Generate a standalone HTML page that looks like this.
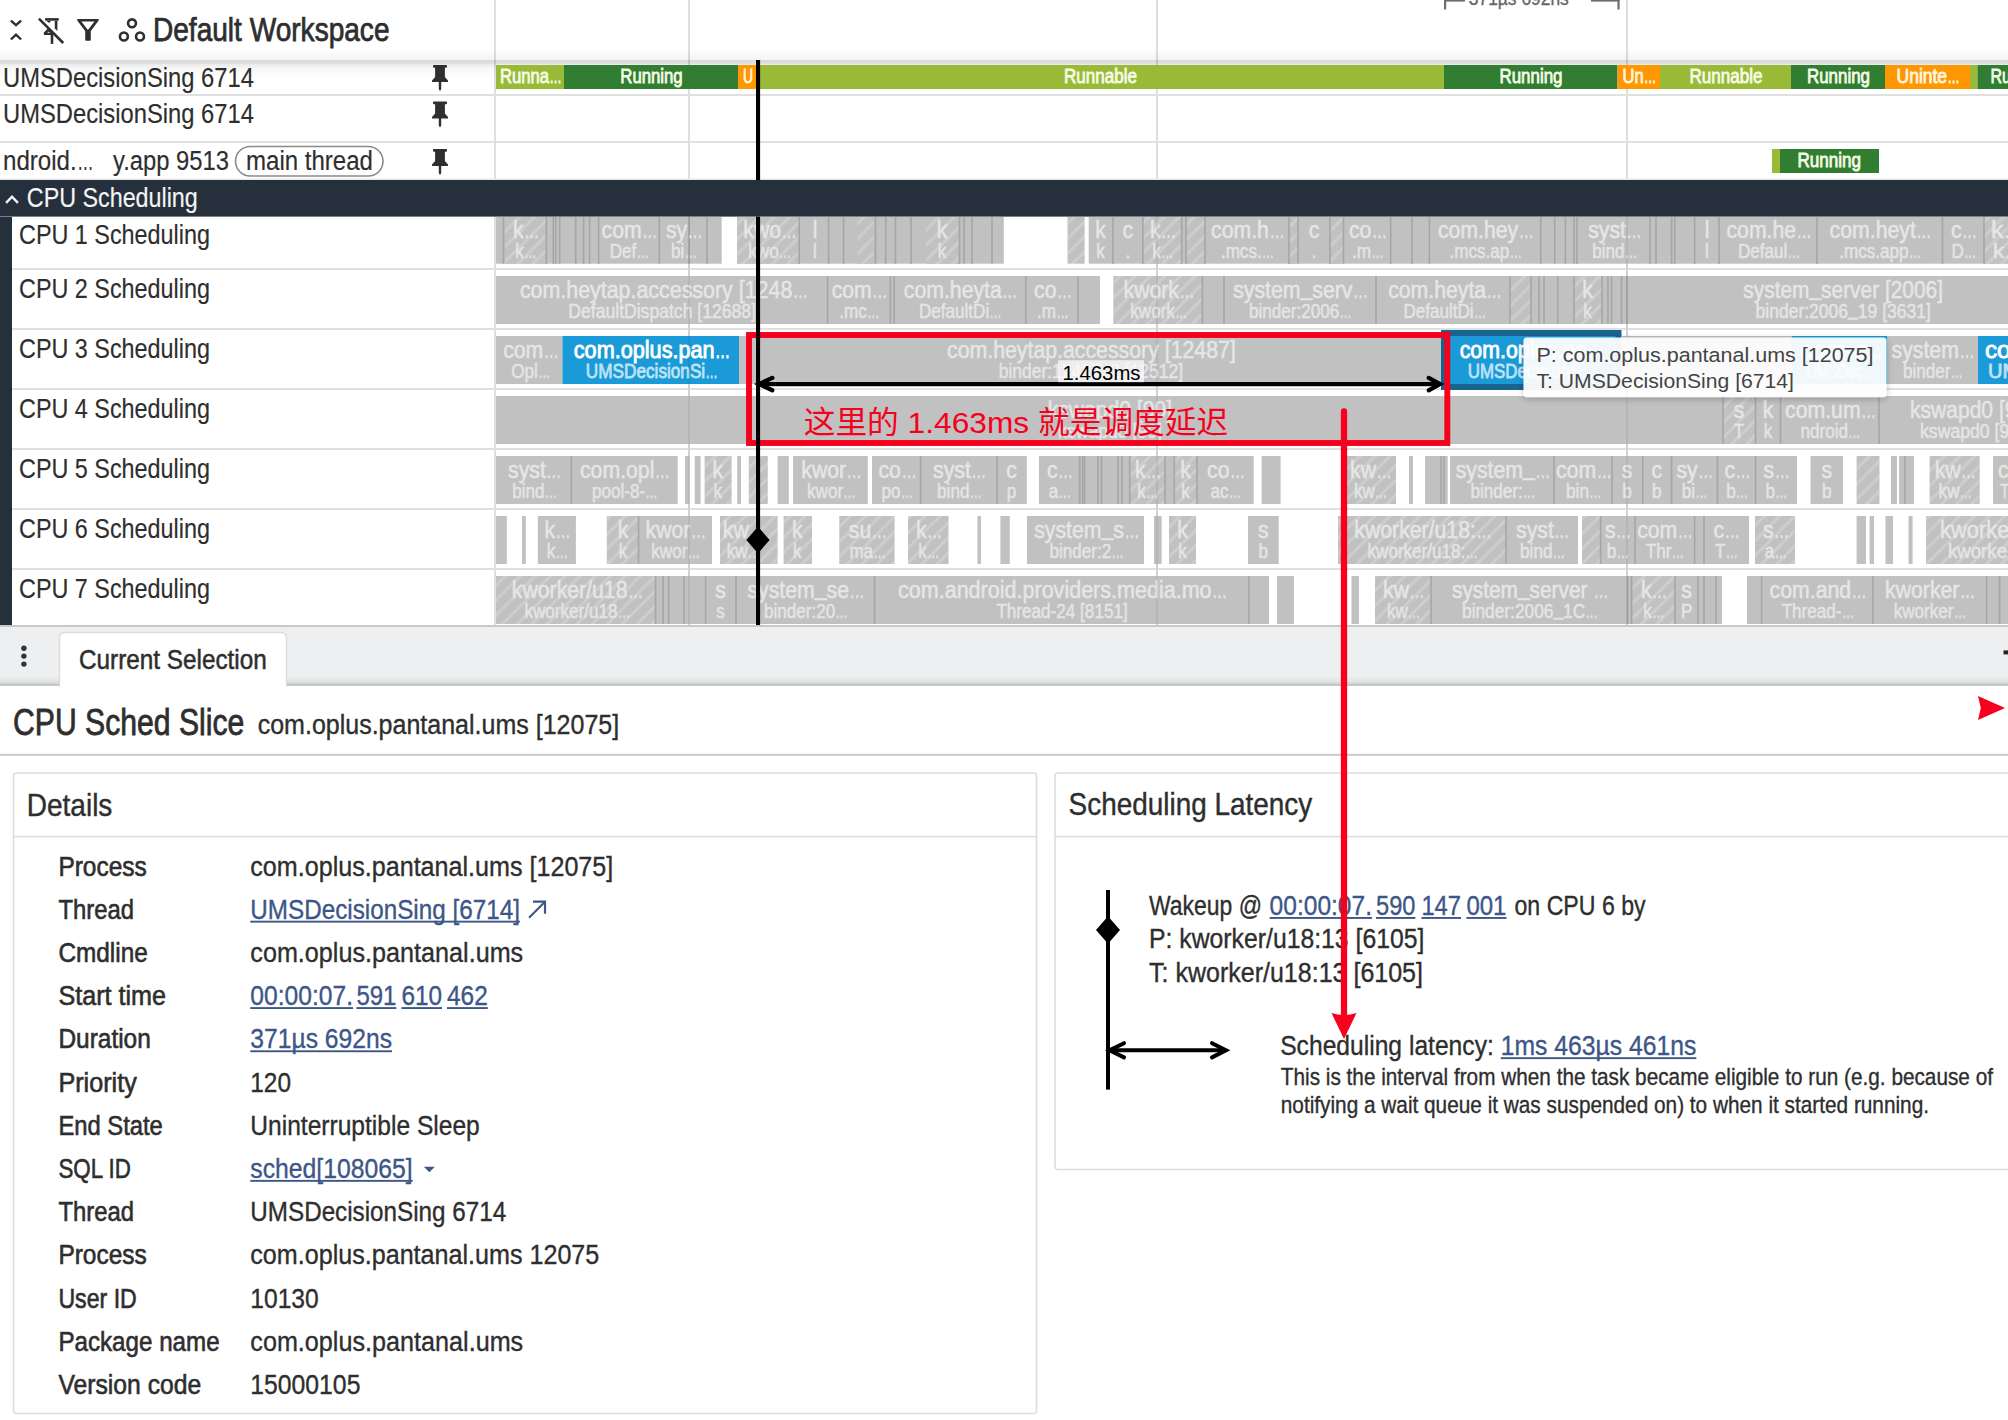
<!DOCTYPE html>
<html lang="zh">
<head>
<meta charset="utf-8">
<title>Perfetto UI - CPU Sched Slice</title>
<style>
html,body{margin:0;padding:0;background:#fff;}
body{width:2008px;height:1420px;overflow:hidden;}
svg{display:block;}
svg text{font-family:"Liberation Sans","Noto Sans CJK SC",sans-serif;white-space:pre;}
svg text.cjk{font-family:"Liberation Sans","Noto Sans CJK SC",sans-serif;}
</style>
</head>
<body>
<svg width="2008" height="1420" viewBox="0 0 2008 1420">
<defs>
<linearGradient id="shA" x1="0" y1="0" x2="0" y2="1"><stop offset="0" stop-color="#000" stop-opacity="0"/><stop offset="1" stop-color="#000" stop-opacity="0.045"/></linearGradient>
<linearGradient id="shB" x1="0" y1="0" x2="0" y2="1"><stop offset="0" stop-color="#000" stop-opacity="0.15"/><stop offset="0.17" stop-color="#000" stop-opacity="0.13"/><stop offset="0.26" stop-color="#000" stop-opacity="0.07"/><stop offset="0.5" stop-color="#000" stop-opacity="0.03"/><stop offset="1" stop-color="#000" stop-opacity="0"/></linearGradient>
<linearGradient id="shC" x1="0" y1="0" x2="0" y2="1"><stop offset="0" stop-color="#000" stop-opacity="0"/><stop offset="1" stop-color="#000" stop-opacity="0.10"/></linearGradient>
<pattern id="hatch" width="10.6" height="10.6" patternUnits="userSpaceOnUse" patternTransform="rotate(-45)"><rect x="0" y="0" width="10.6" height="3" fill="#ffffff" fill-opacity="0.2"/></pattern>
<clipPath id="tl"><rect x="496" y="217" width="1512" height="408"/></clipPath>
<clipPath id="c1"><rect x="496" y="217" width="1512" height="47"/></clipPath>
<filter id="tsh" x="-5%" y="-20%" width="110%" height="150%"><feDropShadow dx="0" dy="1.5" stdDeviation="3" flood-color="#000" flood-opacity="0.28"/></filter>
</defs>
<rect x="0.0" y="0.0" width="2008.0" height="1420.0" fill="#ffffff" />
<rect x="688.0" y="0.0" width="2.0" height="626.0" fill="#dedede" />
<rect x="1156.0" y="0.0" width="2.0" height="626.0" fill="#dedede" />
<rect x="1626.0" y="0.0" width="2.0" height="626.0" fill="#dedede" />
<rect x="494.0" y="0.0" width="2.0" height="626.0" fill="#dfdfdf" />
<rect x="0" y="48" width="2008" height="12" fill="url(#shA)"/>
<rect x="0" y="60" width="2008" height="18" fill="url(#shB)"/>
<g fill="none" stroke="#2f2f2f" stroke-width="2.4" stroke-linejoin="miter">
<polyline points="10.9,20.6 16,25.2 21.1,20.6"/>
<polyline points="10.9,39.5 16,34.7 21.1,39.5"/>
</g>
<g fill="#2f2f2f">
<rect x="45.1" y="18.1" width="13.6" height="2.6"/>
<polygon points="46,20.7 51.2,20.7 49.3,23"/>
<polygon points="54.8,20.7 57.4,20.7 57.4,30.9 54.8,28.3"/>
<path d="M43.9,35 V32.6 L47.9,28.6 L53.3,33.9 V35 Z"/>
<polygon points="47.9,31.6 50.6,33 47.5,33" fill="#c8c8c8"/>
<rect x="50.7" y="35" width="2.6" height="8.9"/>
</g>
<line x1="38.9" y1="18.7" x2="63.2" y2="43" stroke="#2f2f2f" stroke-width="2.6"/>
<path d="M78.2,19.1 H97.7 Q99.6,19.1 98.5,20.7 L90.8,30.9 V39.8 Q90.8,40.8 89.8,40.8 H86.2 Q85.2,40.8 85.2,39.8 V30.9 L77.4,20.7 Q76.3,19.1 78.2,19.1 Z M81.3,21.5 L87.9,30 L94.5,21.5 Z" fill="#2f2f2f" fill-rule="evenodd"/>
<g fill="none" stroke="#2f2f2f" stroke-width="2.6">
<circle cx="132" cy="23.3" r="3.95"/><circle cx="123.9" cy="36.5" r="3.95"/><circle cx="140" cy="36.5" r="3.95"/>
</g>
<text x="153.0" y="40.5" font-size="32.60" fill="#2e2e2e" textLength="236.5" lengthAdjust="spacingAndGlyphs" stroke="#2e2e2e" stroke-width="0.75" >Default Workspace</text>
<rect x="0.0" y="94.0" width="2008.0" height="2.0" fill="#e0e0e0" />
<rect x="0.0" y="141.0" width="2008.0" height="2.0" fill="#e0e0e0" />
<text x="3.0" y="86.8" font-size="26.91" fill="#2e2e2e" textLength="251.0" lengthAdjust="spacingAndGlyphs" stroke="#2e2e2e" stroke-width="0.15" >UMSDecisionSing 6714</text>
<text x="3.0" y="122.6" font-size="26.91" fill="#2e2e2e" textLength="251.0" lengthAdjust="spacingAndGlyphs" stroke="#2e2e2e" stroke-width="0.15" >UMSDecisionSing 6714</text>
<text x="3.0" y="170.3" font-size="26.91" fill="#2e2e2e" textLength="73.7" lengthAdjust="spacingAndGlyphs" stroke="#2e2e2e" stroke-width="0.15" >ndroid.</text>
<text x="77.3" y="170.3" font-size="26.91" fill="#2e2e2e" textLength="16.3" lengthAdjust="spacingAndGlyphs" stroke="#2e2e2e" stroke-width="0.15" >…</text>
<text x="113.0" y="170.3" font-size="26.91" fill="#2e2e2e" textLength="116.0" lengthAdjust="spacingAndGlyphs" stroke="#2e2e2e" stroke-width="0.15" >y.app 9513</text>
<rect x="235.5" y="146.5" width="147.5" height="29.5" rx="14.7" ry="14.7" fill="#ffffff" stroke="#8a8a8a" stroke-width="1.6"/>
<text x="246.0" y="169.8" font-size="26.91" fill="#2e2e2e" textLength="127.0" lengthAdjust="spacingAndGlyphs" stroke="#2e2e2e" stroke-width="0.15" >main thread</text>
<path transform="translate(433,65)" d="M1,0 H13 Q14,0 14,1 V1.8 Q14,2.8 13,2.8 H11.9 V12 L15,15.6 V17 H8.2 V24 L7,26 L5.8,24 V17 H-1 V15.6 L2.1,12 V2.8 H1 Q0,2.8 0,1.8 V1 Q0,0 1,0 Z" fill="#2f2f2f"/>
<path transform="translate(433,101.5)" d="M1,0 H13 Q14,0 14,1 V1.8 Q14,2.8 13,2.8 H11.9 V12 L15,15.6 V17 H8.2 V24 L7,26 L5.8,24 V17 H-1 V15.6 L2.1,12 V2.8 H1 Q0,2.8 0,1.8 V1 Q0,0 1,0 Z" fill="#2f2f2f"/>
<path transform="translate(433,149)" d="M1,0 H13 Q14,0 14,1 V1.8 Q14,2.8 13,2.8 H11.9 V12 L15,15.6 V17 H8.2 V24 L7,26 L5.8,24 V17 H-1 V15.6 L2.1,12 V2.8 H1 Q0,2.8 0,1.8 V1 Q0,0 1,0 Z" fill="#2f2f2f"/>
<rect x="496.0" y="65.0" width="68.0" height="24.0" fill="#99ba36" />
<text x="500.0" y="82.6" font-size="20.18" fill="#f4fbe4" textLength="49.1" lengthAdjust="spacingAndGlyphs" stroke="#f4fbe4" stroke-width="0.85" >Runna</text>
<text x="549.5" y="82.6" font-size="20.18" fill="#f4fbe4" textLength="12.2" lengthAdjust="spacingAndGlyphs" stroke="#f4fbe4" stroke-width="0.85" >…</text>
<rect x="564.0" y="65.0" width="174.0" height="24.0" fill="#317d31" />
<text x="620.3" y="82.6" font-size="20.18" fill="#f4fbe4" textLength="62.4" lengthAdjust="spacingAndGlyphs" stroke="#f4fbe4" stroke-width="0.85" >Running</text>
<rect x="738.0" y="65.0" width="18.0" height="24.0" fill="#ff9800" />
<text x="743.0" y="82.6" font-size="20.18" fill="#fff6e0" textLength="10.0" lengthAdjust="spacingAndGlyphs" stroke="#fff6e0" stroke-width="0.85" >U</text>
<rect x="756.0" y="65.0" width="688.0" height="24.0" fill="#99ba36" />
<text x="1064.0" y="82.6" font-size="20.18" fill="#f4fbe4" textLength="73.0" lengthAdjust="spacingAndGlyphs" stroke="#f4fbe4" stroke-width="0.85" >Runnable</text>
<rect x="1444.0" y="65.0" width="173.5" height="24.0" fill="#317d31" />
<text x="1499.5" y="82.6" font-size="20.18" fill="#f4fbe4" textLength="63.0" lengthAdjust="spacingAndGlyphs" stroke="#f4fbe4" stroke-width="0.85" >Running</text>
<rect x="1617.5" y="65.0" width="42.5" height="24.0" fill="#ff9800" />
<text x="1622.5" y="82.6" font-size="20.18" fill="#fff6e0" textLength="21.1" lengthAdjust="spacingAndGlyphs" stroke="#fff6e0" stroke-width="0.85" >Un</text>
<text x="1644.0" y="82.6" font-size="20.18" fill="#fff6e0" textLength="12.2" lengthAdjust="spacingAndGlyphs" stroke="#fff6e0" stroke-width="0.85" >…</text>
<rect x="1660.0" y="65.0" width="131.0" height="24.0" fill="#99ba36" />
<text x="1689.5" y="82.6" font-size="20.18" fill="#f4fbe4" textLength="73.0" lengthAdjust="spacingAndGlyphs" stroke="#f4fbe4" stroke-width="0.85" >Runnable</text>
<rect x="1791.0" y="65.0" width="94.0" height="24.0" fill="#317d31" />
<text x="1807.0" y="82.6" font-size="20.18" fill="#f4fbe4" textLength="63.0" lengthAdjust="spacingAndGlyphs" stroke="#f4fbe4" stroke-width="0.85" >Running</text>
<rect x="1885.0" y="65.0" width="85.0" height="24.0" fill="#ff9800" />
<text x="1896.5" y="82.6" font-size="20.18" fill="#fff6e0" textLength="50.6" lengthAdjust="spacingAndGlyphs" stroke="#fff6e0" stroke-width="0.85" >Uninte</text>
<text x="1947.5" y="82.6" font-size="20.18" fill="#fff6e0" textLength="12.2" lengthAdjust="spacingAndGlyphs" stroke="#fff6e0" stroke-width="0.85" >…</text>
<rect x="1970.0" y="65.0" width="7.5" height="24.0" fill="#99ba36" />
<rect x="1977.5" y="65.0" width="30.5" height="24.0" fill="#317d31" />
<text x="1990.5" y="82.6" font-size="20.18" fill="#f4fbe4" textLength="20.5" lengthAdjust="spacingAndGlyphs" stroke="#f4fbe4" stroke-width="0.85" >Ru</text>
<rect x="1772.0" y="149.0" width="8.0" height="24.0" fill="#99ba36" />
<rect x="1780.0" y="149.0" width="99.0" height="24.0" fill="#317d31" />
<text x="1797.5" y="166.6" font-size="20.18" fill="#f4fbe4" textLength="63.5" lengthAdjust="spacingAndGlyphs" stroke="#f4fbe4" stroke-width="0.85" >Running</text>
<rect x="1444.0" y="0.0" width="2.2" height="9.5" fill="#6d6d6d" />
<rect x="1444.0" y="0.0" width="21.0" height="1.6" fill="#6d6d6d" />
<rect x="1617.4" y="0.0" width="2.2" height="9.5" fill="#6d6d6d" />
<rect x="1591.0" y="0.0" width="28.6" height="1.6" fill="#6d6d6d" />
<text x="1468.8" y="4.5" font-size="20.70" fill="#666666" textLength="100.0" lengthAdjust="spacingAndGlyphs" stroke="#666666" stroke-width="0.35" >371µs 692ns</text>
<rect x="0.0" y="217.0" width="12.0" height="408.0" fill="#262f3c" />
<text x="19.0" y="243.5" font-size="26.91" fill="#2e2e2e" textLength="191.0" lengthAdjust="spacingAndGlyphs" stroke="#2e2e2e" stroke-width="0.15" >CPU 1 Scheduling</text>
<text x="19.0" y="297.8" font-size="26.91" fill="#2e2e2e" textLength="191.0" lengthAdjust="spacingAndGlyphs" stroke="#2e2e2e" stroke-width="0.15" >CPU 2 Scheduling</text>
<text x="19.0" y="357.6" font-size="26.91" fill="#2e2e2e" textLength="191.0" lengthAdjust="spacingAndGlyphs" stroke="#2e2e2e" stroke-width="0.15" >CPU 3 Scheduling</text>
<text x="19.0" y="417.6" font-size="26.91" fill="#2e2e2e" textLength="191.0" lengthAdjust="spacingAndGlyphs" stroke="#2e2e2e" stroke-width="0.15" >CPU 4 Scheduling</text>
<text x="19.0" y="477.6" font-size="26.91" fill="#2e2e2e" textLength="191.0" lengthAdjust="spacingAndGlyphs" stroke="#2e2e2e" stroke-width="0.15" >CPU 5 Scheduling</text>
<text x="19.0" y="537.6" font-size="26.91" fill="#2e2e2e" textLength="191.0" lengthAdjust="spacingAndGlyphs" stroke="#2e2e2e" stroke-width="0.15" >CPU 6 Scheduling</text>
<text x="19.0" y="597.6" font-size="26.91" fill="#2e2e2e" textLength="191.0" lengthAdjust="spacingAndGlyphs" stroke="#2e2e2e" stroke-width="0.15" >CPU 7 Scheduling</text>
<rect x="12.0" y="268.0" width="1996.0" height="2.0" fill="#e0e0e0" />
<rect x="12.0" y="328.0" width="1996.0" height="2.0" fill="#e0e0e0" />
<rect x="12.0" y="388.0" width="1996.0" height="2.0" fill="#e0e0e0" />
<rect x="12.0" y="448.0" width="1996.0" height="2.0" fill="#e0e0e0" />
<rect x="12.0" y="508.0" width="1996.0" height="2.0" fill="#e0e0e0" />
<rect x="12.0" y="568.0" width="1996.0" height="2.0" fill="#e0e0e0" />
<g clip-path="url(#tl)">
<g clip-path="url(#c1)">
<rect x="496.0" y="216.0" width="225.7" height="47.7" fill="#c1c1c1" />
<rect x="505.0" y="216.0" width="40.8" height="47.7" fill="#c1c1c1" />
<rect x="505.0" y="216.0" width="40.8" height="48" fill="url(#hatch)"/>
<rect x="502.7" y="216.0" width="1.6" height="48.0" fill="#a6a6a6" />
<rect x="545.6" y="216.0" width="1.6" height="48.0" fill="#a6a6a6" />
<rect x="552.5" y="216.0" width="1.6" height="48.0" fill="#a6a6a6" />
<rect x="554.9" y="216.0" width="1.6" height="48.0" fill="#a6a6a6" />
<rect x="558.9" y="216.0" width="1.6" height="48.0" fill="#a6a6a6" />
<rect x="574.9" y="216.0" width="1.6" height="48.0" fill="#a6a6a6" />
<rect x="582.8" y="216.0" width="1.6" height="48.0" fill="#a6a6a6" />
<rect x="588.8" y="216.0" width="1.6" height="48.0" fill="#a6a6a6" />
<rect x="597.8" y="216.0" width="1.6" height="48.0" fill="#a6a6a6" />
<rect x="658.5" y="216.0" width="1.6" height="48.0" fill="#a6a6a6" />
<rect x="688.4" y="216.0" width="1.6" height="48.0" fill="#a6a6a6" />
<rect x="706.2" y="216.0" width="1.6" height="48.0" fill="#a6a6a6" />
<text x="512.9" y="237.6" font-size="24.84" fill="#e6e6e6" textLength="10.6" lengthAdjust="spacingAndGlyphs" stroke="#e6e6e6" stroke-width="0.55" >k</text>
<text x="524.0" y="237.6" font-size="24.84" fill="#e6e6e6" textLength="15.1" lengthAdjust="spacingAndGlyphs" stroke="#e6e6e6" stroke-width="0.55" >…</text>
<text x="515.2" y="257.6" font-size="19.98" fill="#e5e5e5" textLength="8.5" lengthAdjust="spacingAndGlyphs" stroke="#e5e5e5" stroke-width="0.49500000000000005" >k</text>
<text x="524.2" y="257.6" font-size="19.98" fill="#e5e5e5" textLength="12.1" lengthAdjust="spacingAndGlyphs" stroke="#e5e5e5" stroke-width="0.49500000000000005" >…</text>
<text x="601.6" y="237.6" font-size="24.84" fill="#e6e6e6" textLength="40.1" lengthAdjust="spacingAndGlyphs" stroke="#e6e6e6" stroke-width="0.55" >com</text>
<text x="642.2" y="237.6" font-size="24.84" fill="#e6e6e6" textLength="15.1" lengthAdjust="spacingAndGlyphs" stroke="#e6e6e6" stroke-width="0.55" >…</text>
<text x="609.7" y="257.6" font-size="19.98" fill="#e5e5e5" textLength="26.6" lengthAdjust="spacingAndGlyphs" stroke="#e5e5e5" stroke-width="0.49500000000000005" >Def</text>
<text x="636.7" y="257.6" font-size="19.98" fill="#e5e5e5" textLength="12.1" lengthAdjust="spacingAndGlyphs" stroke="#e5e5e5" stroke-width="0.49500000000000005" >…</text>
<text x="665.9" y="237.6" font-size="24.84" fill="#e6e6e6" textLength="21.2" lengthAdjust="spacingAndGlyphs" stroke="#e6e6e6" stroke-width="0.55" >sy</text>
<text x="687.6" y="237.6" font-size="24.84" fill="#e6e6e6" textLength="15.1" lengthAdjust="spacingAndGlyphs" stroke="#e6e6e6" stroke-width="0.55" >…</text>
<text x="671.1" y="257.6" font-size="19.98" fill="#e5e5e5" textLength="13.3" lengthAdjust="spacingAndGlyphs" stroke="#e5e5e5" stroke-width="0.49500000000000005" >bi</text>
<text x="684.8" y="257.6" font-size="19.98" fill="#e5e5e5" textLength="12.1" lengthAdjust="spacingAndGlyphs" stroke="#e5e5e5" stroke-width="0.49500000000000005" >…</text>
<rect x="737.0" y="216.0" width="266.8" height="47.7" fill="#c1c1c1" />
<rect x="737.0" y="216.0" width="62.2" height="47.7" fill="#c1c1c1" />
<rect x="737.0" y="216.0" width="62.2" height="48" fill="url(#hatch)"/>
<rect x="857.5" y="216.0" width="16.0" height="47.7" fill="#c1c1c1" />
<rect x="857.5" y="216.0" width="16.0" height="48" fill="url(#hatch)"/>
<rect x="926.0" y="216.0" width="33.0" height="47.7" fill="#c1c1c1" />
<rect x="926.0" y="216.0" width="33.0" height="48" fill="url(#hatch)"/>
<rect x="798.4" y="216.0" width="1.6" height="48.0" fill="#a6a6a6" />
<rect x="827.8" y="216.0" width="1.6" height="48.0" fill="#a6a6a6" />
<rect x="842.8" y="216.0" width="1.6" height="48.0" fill="#a6a6a6" />
<rect x="874.7" y="216.0" width="1.6" height="48.0" fill="#a6a6a6" />
<rect x="884.9" y="216.0" width="1.6" height="48.0" fill="#a6a6a6" />
<rect x="894.7" y="216.0" width="1.6" height="48.0" fill="#a6a6a6" />
<rect x="910.2" y="216.0" width="1.6" height="48.0" fill="#a6a6a6" />
<rect x="958.7" y="216.0" width="1.6" height="48.0" fill="#a6a6a6" />
<rect x="963.2" y="216.0" width="1.6" height="48.0" fill="#a6a6a6" />
<rect x="971.2" y="216.0" width="1.6" height="48.0" fill="#a6a6a6" />
<rect x="991.2" y="216.0" width="1.6" height="48.0" fill="#a6a6a6" />
<text x="743.3" y="237.6" font-size="24.84" fill="#e6e6e6" textLength="37.8" lengthAdjust="spacingAndGlyphs" stroke="#e6e6e6" stroke-width="0.55" >kwo</text>
<text x="781.5" y="237.6" font-size="24.84" fill="#e6e6e6" textLength="15.1" lengthAdjust="spacingAndGlyphs" stroke="#e6e6e6" stroke-width="0.55" >…</text>
<text x="748.3" y="257.6" font-size="19.98" fill="#e5e5e5" textLength="30.4" lengthAdjust="spacingAndGlyphs" stroke="#e5e5e5" stroke-width="0.49500000000000005" >kwo</text>
<text x="779.1" y="257.6" font-size="19.98" fill="#e5e5e5" textLength="12.1" lengthAdjust="spacingAndGlyphs" stroke="#e5e5e5" stroke-width="0.49500000000000005" >…</text>
<text x="815.0" y="237.6" font-size="24.84" fill="#e6e6e6" textLength="4.7" lengthAdjust="spacingAndGlyphs" text-anchor="middle" stroke="#e6e6e6" stroke-width="0.55" >l</text>
<text x="815.0" y="257.6" font-size="19.98" fill="#e5e5e5" textLength="3.8" lengthAdjust="spacingAndGlyphs" text-anchor="middle" stroke="#e5e5e5" stroke-width="0.49500000000000005" >l</text>
<text x="942.0" y="237.6" font-size="24.84" fill="#e6e6e6" textLength="10.6" lengthAdjust="spacingAndGlyphs" text-anchor="middle" stroke="#e6e6e6" stroke-width="0.55" >k</text>
<text x="942.0" y="257.6" font-size="19.98" fill="#e5e5e5" textLength="8.5" lengthAdjust="spacingAndGlyphs" text-anchor="middle" stroke="#e5e5e5" stroke-width="0.49500000000000005" >k</text>
<rect x="1067.5" y="216.0" width="17.1" height="47.7" fill="#c1c1c1" />
<rect x="1067.5" y="216.0" width="17.1" height="48" fill="url(#hatch)"/>
<rect x="1088.7" y="216.0" width="919.3" height="47.7" fill="#c1c1c1" />
<rect x="1142.9" y="216.0" width="38.8" height="47.7" fill="#c1c1c1" />
<rect x="1142.9" y="216.0" width="38.8" height="48" fill="url(#hatch)"/>
<rect x="1186.0" y="216.0" width="19.0" height="47.7" fill="#c1c1c1" />
<rect x="1186.0" y="216.0" width="19.0" height="48" fill="url(#hatch)"/>
<rect x="1289.0" y="216.0" width="9.0" height="47.7" fill="#c1c1c1" />
<rect x="1289.0" y="216.0" width="9.0" height="48" fill="url(#hatch)"/>
<rect x="1330.0" y="216.0" width="13.5" height="47.7" fill="#c1c1c1" />
<rect x="1330.0" y="216.0" width="13.5" height="48" fill="url(#hatch)"/>
<rect x="1984.0" y="216.0" width="24.0" height="47.7" fill="#c1c1c1" />
<rect x="1984.0" y="216.0" width="24.0" height="48" fill="url(#hatch)"/>
<rect x="1112.2" y="216.0" width="1.6" height="48.0" fill="#a6a6a6" />
<rect x="1142.1" y="216.0" width="1.6" height="48.0" fill="#a6a6a6" />
<rect x="1180.9" y="216.0" width="1.6" height="48.0" fill="#a6a6a6" />
<rect x="1185.2" y="216.0" width="1.6" height="48.0" fill="#a6a6a6" />
<rect x="1204.2" y="216.0" width="1.6" height="48.0" fill="#a6a6a6" />
<rect x="1288.2" y="216.0" width="1.6" height="48.0" fill="#a6a6a6" />
<rect x="1297.2" y="216.0" width="1.6" height="48.0" fill="#a6a6a6" />
<rect x="1329.2" y="216.0" width="1.6" height="48.0" fill="#a6a6a6" />
<rect x="1342.7" y="216.0" width="1.6" height="48.0" fill="#a6a6a6" />
<rect x="1389.9" y="216.0" width="1.6" height="48.0" fill="#a6a6a6" />
<rect x="1411.2" y="216.0" width="1.6" height="48.0" fill="#a6a6a6" />
<rect x="1428.6" y="216.0" width="1.6" height="48.0" fill="#a6a6a6" />
<rect x="1540.0" y="216.0" width="1.6" height="48.0" fill="#a6a6a6" />
<rect x="1553.9" y="216.0" width="1.6" height="48.0" fill="#a6a6a6" />
<rect x="1564.6" y="216.0" width="1.6" height="48.0" fill="#a6a6a6" />
<rect x="1573.2" y="216.0" width="1.6" height="48.0" fill="#a6a6a6" />
<rect x="1576.2" y="216.0" width="1.6" height="48.0" fill="#a6a6a6" />
<rect x="1649.2" y="216.0" width="1.6" height="48.0" fill="#a6a6a6" />
<rect x="1655.2" y="216.0" width="1.6" height="48.0" fill="#a6a6a6" />
<rect x="1670.8" y="216.0" width="1.6" height="48.0" fill="#a6a6a6" />
<rect x="1673.9" y="216.0" width="1.6" height="48.0" fill="#a6a6a6" />
<rect x="1693.9" y="216.0" width="1.6" height="48.0" fill="#a6a6a6" />
<rect x="1718.2" y="216.0" width="1.6" height="48.0" fill="#a6a6a6" />
<rect x="1816.2" y="216.0" width="1.6" height="48.0" fill="#a6a6a6" />
<rect x="1941.7" y="216.0" width="1.6" height="48.0" fill="#a6a6a6" />
<rect x="1983.2" y="216.0" width="1.6" height="48.0" fill="#a6a6a6" />
<text x="1100.6" y="237.6" font-size="24.84" fill="#e6e6e6" textLength="10.6" lengthAdjust="spacingAndGlyphs" text-anchor="middle" stroke="#e6e6e6" stroke-width="0.55" >k</text>
<text x="1100.6" y="257.6" font-size="19.98" fill="#e5e5e5" textLength="8.5" lengthAdjust="spacingAndGlyphs" text-anchor="middle" stroke="#e5e5e5" stroke-width="0.49500000000000005" >k</text>
<text x="1127.8" y="237.6" font-size="24.84" fill="#e6e6e6" textLength="10.6" lengthAdjust="spacingAndGlyphs" text-anchor="middle" stroke="#e6e6e6" stroke-width="0.55" >c</text>
<text x="1127.8" y="257.6" font-size="19.98" fill="#e5e5e5" textLength="4.7" lengthAdjust="spacingAndGlyphs" text-anchor="middle" stroke="#e5e5e5" stroke-width="0.49500000000000005" >.</text>
<text x="1150.0" y="237.6" font-size="24.84" fill="#e6e6e6" textLength="10.6" lengthAdjust="spacingAndGlyphs" stroke="#e6e6e6" stroke-width="0.55" >k</text>
<text x="1161.1" y="237.6" font-size="24.84" fill="#e6e6e6" textLength="15.1" lengthAdjust="spacingAndGlyphs" stroke="#e6e6e6" stroke-width="0.55" >…</text>
<text x="1152.3" y="257.6" font-size="19.98" fill="#e5e5e5" textLength="8.5" lengthAdjust="spacingAndGlyphs" stroke="#e5e5e5" stroke-width="0.49500000000000005" >k</text>
<text x="1161.3" y="257.6" font-size="19.98" fill="#e5e5e5" textLength="12.1" lengthAdjust="spacingAndGlyphs" stroke="#e5e5e5" stroke-width="0.49500000000000005" >…</text>
<text x="1211.1" y="237.6" font-size="24.84" fill="#e6e6e6" textLength="57.8" lengthAdjust="spacingAndGlyphs" stroke="#e6e6e6" stroke-width="0.55" >com.h</text>
<text x="1269.4" y="237.6" font-size="24.84" fill="#e6e6e6" textLength="15.1" lengthAdjust="spacingAndGlyphs" stroke="#e6e6e6" stroke-width="0.55" >…</text>
<text x="1220.9" y="257.6" font-size="19.98" fill="#e5e5e5" textLength="40.8" lengthAdjust="spacingAndGlyphs" stroke="#e5e5e5" stroke-width="0.49500000000000005" >.mcs.</text>
<text x="1262.1" y="257.6" font-size="19.98" fill="#e5e5e5" textLength="12.1" lengthAdjust="spacingAndGlyphs" stroke="#e5e5e5" stroke-width="0.49500000000000005" >…</text>
<text x="1314.0" y="237.6" font-size="24.84" fill="#e6e6e6" textLength="10.6" lengthAdjust="spacingAndGlyphs" text-anchor="middle" stroke="#e6e6e6" stroke-width="0.55" >c</text>
<text x="1314.0" y="257.6" font-size="19.98" fill="#e5e5e5" textLength="4.7" lengthAdjust="spacingAndGlyphs" text-anchor="middle" stroke="#e5e5e5" stroke-width="0.49500000000000005" >.</text>
<text x="1349.0" y="237.6" font-size="24.84" fill="#e6e6e6" textLength="22.4" lengthAdjust="spacingAndGlyphs" stroke="#e6e6e6" stroke-width="0.55" >co</text>
<text x="1371.9" y="237.6" font-size="24.84" fill="#e6e6e6" textLength="15.1" lengthAdjust="spacingAndGlyphs" stroke="#e6e6e6" stroke-width="0.55" >…</text>
<text x="1352.0" y="257.6" font-size="19.98" fill="#e5e5e5" textLength="19.0" lengthAdjust="spacingAndGlyphs" stroke="#e5e5e5" stroke-width="0.49500000000000005" >.m</text>
<text x="1371.4" y="257.6" font-size="19.98" fill="#e5e5e5" textLength="12.1" lengthAdjust="spacingAndGlyphs" stroke="#e5e5e5" stroke-width="0.49500000000000005" >…</text>
<text x="1437.9" y="237.6" font-size="24.84" fill="#e6e6e6" textLength="80.3" lengthAdjust="spacingAndGlyphs" stroke="#e6e6e6" stroke-width="0.55" >com.hey</text>
<text x="1518.7" y="237.6" font-size="24.84" fill="#e6e6e6" textLength="15.1" lengthAdjust="spacingAndGlyphs" stroke="#e6e6e6" stroke-width="0.55" >…</text>
<text x="1449.5" y="257.6" font-size="19.98" fill="#e5e5e5" textLength="59.8" lengthAdjust="spacingAndGlyphs" stroke="#e5e5e5" stroke-width="0.49500000000000005" >.mcs.ap</text>
<text x="1509.7" y="257.6" font-size="19.98" fill="#e5e5e5" textLength="12.1" lengthAdjust="spacingAndGlyphs" stroke="#e5e5e5" stroke-width="0.49500000000000005" >…</text>
<text x="1588.2" y="237.6" font-size="24.84" fill="#e6e6e6" textLength="37.8" lengthAdjust="spacingAndGlyphs" stroke="#e6e6e6" stroke-width="0.55" >syst</text>
<text x="1626.4" y="237.6" font-size="24.84" fill="#e6e6e6" textLength="15.1" lengthAdjust="spacingAndGlyphs" stroke="#e6e6e6" stroke-width="0.55" >…</text>
<text x="1592.3" y="257.6" font-size="19.98" fill="#e5e5e5" textLength="32.3" lengthAdjust="spacingAndGlyphs" stroke="#e5e5e5" stroke-width="0.49500000000000005" >bind</text>
<text x="1624.9" y="257.6" font-size="19.98" fill="#e5e5e5" textLength="12.1" lengthAdjust="spacingAndGlyphs" stroke="#e5e5e5" stroke-width="0.49500000000000005" >…</text>
<text x="1707.0" y="237.6" font-size="24.84" fill="#e6e6e6" textLength="4.7" lengthAdjust="spacingAndGlyphs" text-anchor="middle" stroke="#e6e6e6" stroke-width="0.55" >l</text>
<text x="1707.0" y="257.6" font-size="19.98" fill="#e5e5e5" textLength="3.8" lengthAdjust="spacingAndGlyphs" text-anchor="middle" stroke="#e5e5e5" stroke-width="0.49500000000000005" >l</text>
<text x="1726.5" y="237.6" font-size="24.84" fill="#e6e6e6" textLength="69.6" lengthAdjust="spacingAndGlyphs" stroke="#e6e6e6" stroke-width="0.55" >com.he</text>
<text x="1796.6" y="237.6" font-size="24.84" fill="#e6e6e6" textLength="15.1" lengthAdjust="spacingAndGlyphs" stroke="#e6e6e6" stroke-width="0.55" >…</text>
<text x="1737.9" y="257.6" font-size="19.98" fill="#e5e5e5" textLength="49.4" lengthAdjust="spacingAndGlyphs" stroke="#e5e5e5" stroke-width="0.49500000000000005" >Defaul</text>
<text x="1787.7" y="257.6" font-size="19.98" fill="#e5e5e5" textLength="12.1" lengthAdjust="spacingAndGlyphs" stroke="#e5e5e5" stroke-width="0.49500000000000005" >…</text>
<text x="1829.6" y="237.6" font-size="24.84" fill="#e6e6e6" textLength="86.2" lengthAdjust="spacingAndGlyphs" stroke="#e6e6e6" stroke-width="0.55" >com.heyt</text>
<text x="1916.2" y="237.6" font-size="24.84" fill="#e6e6e6" textLength="15.1" lengthAdjust="spacingAndGlyphs" stroke="#e6e6e6" stroke-width="0.55" >…</text>
<text x="1839.3" y="257.6" font-size="19.98" fill="#e5e5e5" textLength="69.3" lengthAdjust="spacingAndGlyphs" stroke="#e5e5e5" stroke-width="0.49500000000000005" >.mcs.app</text>
<text x="1909.0" y="257.6" font-size="19.98" fill="#e5e5e5" textLength="12.1" lengthAdjust="spacingAndGlyphs" stroke="#e5e5e5" stroke-width="0.49500000000000005" >…</text>
<text x="1951.0" y="237.6" font-size="24.84" fill="#e6e6e6" textLength="10.6" lengthAdjust="spacingAndGlyphs" stroke="#e6e6e6" stroke-width="0.55" >c</text>
<text x="1962.1" y="237.6" font-size="24.84" fill="#e6e6e6" textLength="15.1" lengthAdjust="spacingAndGlyphs" stroke="#e6e6e6" stroke-width="0.55" >…</text>
<text x="1951.4" y="257.6" font-size="19.98" fill="#e5e5e5" textLength="12.3" lengthAdjust="spacingAndGlyphs" stroke="#e5e5e5" stroke-width="0.49500000000000005" >D</text>
<text x="1964.1" y="257.6" font-size="19.98" fill="#e5e5e5" textLength="12.1" lengthAdjust="spacingAndGlyphs" stroke="#e5e5e5" stroke-width="0.49500000000000005" >…</text>
<text x="1991.0" y="237.6" font-size="24.84" fill="#e6e6e6" textLength="12.6" lengthAdjust="spacingAndGlyphs" stroke="#e6e6e6" stroke-width="0.55" >k</text>
<text x="2004.0" y="237.6" font-size="24.84" fill="#e6e6e6" textLength="15.1" lengthAdjust="spacingAndGlyphs" stroke="#e6e6e6" stroke-width="0.55" >…</text>
<text x="1993.0" y="257.6" font-size="19.98" fill="#e5e5e5" textLength="11.2" lengthAdjust="spacingAndGlyphs" stroke="#e5e5e5" stroke-width="0.49500000000000005" >k</text>
<text x="2004.6" y="257.6" font-size="19.98" fill="#e5e5e5" textLength="12.1" lengthAdjust="spacingAndGlyphs" stroke="#e5e5e5" stroke-width="0.49500000000000005" >…</text>
</g>
<rect x="496.0" y="276.0" width="604.0" height="48.0" fill="#c1c1c1" />
<rect x="826.8" y="276.0" width="1.6" height="48.0" fill="#a6a6a6" />
<rect x="889.6" y="276.0" width="1.6" height="48.0" fill="#a6a6a6" />
<rect x="893.4" y="276.0" width="1.6" height="48.0" fill="#a6a6a6" />
<rect x="1025.0" y="276.0" width="1.6" height="48.0" fill="#a6a6a6" />
<rect x="1077.2" y="276.0" width="1.6" height="48.0" fill="#a6a6a6" />
<text x="519.9" y="297.6" font-size="24.84" fill="#e6e6e6" textLength="272.4" lengthAdjust="spacingAndGlyphs" stroke="#e6e6e6" stroke-width="0.55" >com.heytap.accessory [1248</text>
<text x="792.7" y="297.6" font-size="24.84" fill="#e6e6e6" textLength="15.1" lengthAdjust="spacingAndGlyphs" stroke="#e6e6e6" stroke-width="0.55" >…</text>
<text x="568.3" y="317.6" font-size="19.98" fill="#e5e5e5" textLength="187.7" lengthAdjust="spacingAndGlyphs" stroke="#e5e5e5" stroke-width="0.49500000000000005" >DefaultDispatch [12688]</text>
<text x="831.7" y="297.6" font-size="24.84" fill="#e6e6e6" textLength="40.1" lengthAdjust="spacingAndGlyphs" stroke="#e6e6e6" stroke-width="0.55" >com</text>
<text x="872.3" y="297.6" font-size="24.84" fill="#e6e6e6" textLength="15.1" lengthAdjust="spacingAndGlyphs" stroke="#e6e6e6" stroke-width="0.55" >…</text>
<text x="839.3" y="317.6" font-size="19.98" fill="#e5e5e5" textLength="27.5" lengthAdjust="spacingAndGlyphs" stroke="#e5e5e5" stroke-width="0.49500000000000005" >.mc</text>
<text x="867.2" y="317.6" font-size="19.98" fill="#e5e5e5" textLength="12.1" lengthAdjust="spacingAndGlyphs" stroke="#e5e5e5" stroke-width="0.49500000000000005" >…</text>
<text x="903.8" y="297.6" font-size="24.84" fill="#e6e6e6" textLength="98.0" lengthAdjust="spacingAndGlyphs" stroke="#e6e6e6" stroke-width="0.55" >com.heyta</text>
<text x="1002.2" y="297.6" font-size="24.84" fill="#e6e6e6" textLength="15.1" lengthAdjust="spacingAndGlyphs" stroke="#e6e6e6" stroke-width="0.55" >…</text>
<text x="919.0" y="317.6" font-size="19.98" fill="#e5e5e5" textLength="70.2" lengthAdjust="spacingAndGlyphs" stroke="#e5e5e5" stroke-width="0.49500000000000005" >DefaultDi</text>
<text x="989.6" y="317.6" font-size="19.98" fill="#e5e5e5" textLength="12.1" lengthAdjust="spacingAndGlyphs" stroke="#e5e5e5" stroke-width="0.49500000000000005" >…</text>
<text x="1034.1" y="297.6" font-size="24.84" fill="#e6e6e6" textLength="22.4" lengthAdjust="spacingAndGlyphs" stroke="#e6e6e6" stroke-width="0.55" >co</text>
<text x="1057.0" y="297.6" font-size="24.84" fill="#e6e6e6" textLength="15.1" lengthAdjust="spacingAndGlyphs" stroke="#e6e6e6" stroke-width="0.55" >…</text>
<text x="1037.1" y="317.6" font-size="19.98" fill="#e5e5e5" textLength="19.0" lengthAdjust="spacingAndGlyphs" stroke="#e5e5e5" stroke-width="0.49500000000000005" >.m</text>
<text x="1056.5" y="317.6" font-size="19.98" fill="#e5e5e5" textLength="12.1" lengthAdjust="spacingAndGlyphs" stroke="#e5e5e5" stroke-width="0.49500000000000005" >…</text>
<rect x="1113.6" y="276.0" width="894.4" height="48.0" fill="#c1c1c1" />
<rect x="1113.6" y="276.0" width="88.8" height="48.0" fill="#c1c1c1" />
<rect x="1113.6" y="276.0" width="88.8" height="48" fill="url(#hatch)"/>
<rect x="1510.0" y="276.0" width="21.0" height="48.0" fill="#c1c1c1" />
<rect x="1510.0" y="276.0" width="21.0" height="48" fill="url(#hatch)"/>
<rect x="1574.0" y="276.0" width="28.0" height="48.0" fill="#c1c1c1" />
<rect x="1574.0" y="276.0" width="28.0" height="48" fill="url(#hatch)"/>
<rect x="1201.6" y="276.0" width="1.6" height="48.0" fill="#a6a6a6" />
<rect x="1223.2" y="276.0" width="1.6" height="48.0" fill="#a6a6a6" />
<rect x="1375.2" y="276.0" width="1.6" height="48.0" fill="#a6a6a6" />
<rect x="1509.2" y="276.0" width="1.6" height="48.0" fill="#a6a6a6" />
<rect x="1530.2" y="276.0" width="1.6" height="48.0" fill="#a6a6a6" />
<rect x="1538.2" y="276.0" width="1.6" height="48.0" fill="#a6a6a6" />
<rect x="1543.2" y="276.0" width="1.6" height="48.0" fill="#a6a6a6" />
<rect x="1556.9" y="276.0" width="1.6" height="48.0" fill="#a6a6a6" />
<rect x="1573.2" y="276.0" width="1.6" height="48.0" fill="#a6a6a6" />
<rect x="1601.2" y="276.0" width="1.6" height="48.0" fill="#a6a6a6" />
<rect x="1607.2" y="276.0" width="1.6" height="48.0" fill="#a6a6a6" />
<rect x="1610.8" y="276.0" width="1.6" height="48.0" fill="#a6a6a6" />
<rect x="1620.7" y="276.0" width="1.6" height="48.0" fill="#a6a6a6" />
<rect x="1626.2" y="276.0" width="1.6" height="48.0" fill="#a6a6a6" />
<text x="1123.5" y="297.6" font-size="24.84" fill="#e6e6e6" textLength="55.5" lengthAdjust="spacingAndGlyphs" stroke="#e6e6e6" stroke-width="0.55" >kwork</text>
<text x="1179.5" y="297.6" font-size="24.84" fill="#e6e6e6" textLength="15.1" lengthAdjust="spacingAndGlyphs" stroke="#e6e6e6" stroke-width="0.55" >…</text>
<text x="1130.3" y="317.6" font-size="19.98" fill="#e5e5e5" textLength="44.6" lengthAdjust="spacingAndGlyphs" stroke="#e5e5e5" stroke-width="0.49500000000000005" >kwork</text>
<text x="1175.3" y="317.6" font-size="19.98" fill="#e5e5e5" textLength="12.1" lengthAdjust="spacingAndGlyphs" stroke="#e5e5e5" stroke-width="0.49500000000000005" >…</text>
<text x="1233.2" y="297.6" font-size="24.84" fill="#e6e6e6" textLength="119.2" lengthAdjust="spacingAndGlyphs" stroke="#e6e6e6" stroke-width="0.55" >system<tspan dy="-2.98">_</tspan><tspan dy="2.98">serv</tspan></text>
<text x="1352.9" y="297.6" font-size="24.84" fill="#e6e6e6" textLength="15.1" lengthAdjust="spacingAndGlyphs" stroke="#e6e6e6" stroke-width="0.55" >…</text>
<text x="1249.0" y="317.6" font-size="19.98" fill="#e5e5e5" textLength="90.2" lengthAdjust="spacingAndGlyphs" stroke="#e5e5e5" stroke-width="0.49500000000000005" >binder:2006</text>
<text x="1339.6" y="317.6" font-size="19.98" fill="#e5e5e5" textLength="12.1" lengthAdjust="spacingAndGlyphs" stroke="#e5e5e5" stroke-width="0.49500000000000005" >…</text>
<text x="1388.2" y="297.6" font-size="24.84" fill="#e6e6e6" textLength="98.0" lengthAdjust="spacingAndGlyphs" stroke="#e6e6e6" stroke-width="0.55" >com.heyta</text>
<text x="1486.6" y="297.6" font-size="24.84" fill="#e6e6e6" textLength="15.1" lengthAdjust="spacingAndGlyphs" stroke="#e6e6e6" stroke-width="0.55" >…</text>
<text x="1403.4" y="317.6" font-size="19.98" fill="#e5e5e5" textLength="70.2" lengthAdjust="spacingAndGlyphs" stroke="#e5e5e5" stroke-width="0.49500000000000005" >DefaultDi</text>
<text x="1474.0" y="317.6" font-size="19.98" fill="#e5e5e5" textLength="12.1" lengthAdjust="spacingAndGlyphs" stroke="#e5e5e5" stroke-width="0.49500000000000005" >…</text>
<text x="1587.6" y="297.6" font-size="24.84" fill="#e6e6e6" textLength="10.6" lengthAdjust="spacingAndGlyphs" text-anchor="middle" stroke="#e6e6e6" stroke-width="0.55" >k</text>
<text x="1587.6" y="317.6" font-size="19.98" fill="#e5e5e5" textLength="8.5" lengthAdjust="spacingAndGlyphs" text-anchor="middle" stroke="#e5e5e5" stroke-width="0.49500000000000005" >k</text>
<text x="1743.3" y="297.6" font-size="24.84" fill="#e6e6e6" textLength="199.7" lengthAdjust="spacingAndGlyphs" stroke="#e6e6e6" stroke-width="0.55" >system<tspan dy="-2.98">_</tspan><tspan dy="2.98">server [2006]</tspan></text>
<text x="1755.6" y="317.6" font-size="19.98" fill="#e5e5e5" textLength="175.2" lengthAdjust="spacingAndGlyphs" stroke="#e5e5e5" stroke-width="0.49500000000000005" >binder:2006<tspan dy="-2.40">_</tspan><tspan dy="2.40">19 [3631]</tspan></text>
<rect x="496.0" y="336.0" width="66.4" height="48.0" fill="#c1c1c1" />
<text x="503.2" y="357.6" font-size="24.84" fill="#e6e6e6" textLength="40.1" lengthAdjust="spacingAndGlyphs" stroke="#e6e6e6" stroke-width="0.55" >com</text>
<text x="543.8" y="357.6" font-size="24.84" fill="#e6e6e6" textLength="15.1" lengthAdjust="spacingAndGlyphs" stroke="#e6e6e6" stroke-width="0.55" >…</text>
<text x="511.3" y="377.6" font-size="19.98" fill="#e5e5e5" textLength="26.6" lengthAdjust="spacingAndGlyphs" stroke="#e5e5e5" stroke-width="0.49500000000000005" >Opl</text>
<text x="538.3" y="377.6" font-size="19.98" fill="#e5e5e5" textLength="12.1" lengthAdjust="spacingAndGlyphs" stroke="#e5e5e5" stroke-width="0.49500000000000005" >…</text>
<rect x="562.4" y="336.0" width="176.6" height="48.0" fill="#1b9ad8" />
<text x="573.8" y="357.6" font-size="24.84" fill="#ffffff" textLength="140.8" lengthAdjust="spacingAndGlyphs" stroke="#ffffff" stroke-width="0.9" >com.oplus.pan</text>
<text x="715.0" y="357.6" font-size="24.84" fill="#ffffff" textLength="15.1" lengthAdjust="spacingAndGlyphs" stroke="#ffffff" stroke-width="0.9" >…</text>
<text x="585.8" y="377.6" font-size="19.98" fill="#bfe3f6" textLength="119.4" lengthAdjust="spacingAndGlyphs" stroke="#bfe3f6" stroke-width="0.81" >UMSDecisionSi</text>
<text x="705.6" y="377.6" font-size="19.98" fill="#bfe3f6" textLength="12.1" lengthAdjust="spacingAndGlyphs" stroke="#bfe3f6" stroke-width="0.81" >…</text>
<rect x="739.0" y="336.0" width="705.0" height="48.0" fill="#c1c1c1" />
<rect x="746.2" y="336.0" width="1.6" height="48.0" fill="#a6a6a6" />
<text x="947.0" y="357.6" font-size="24.84" fill="#e6e6e6" textLength="288.8" lengthAdjust="spacingAndGlyphs" stroke="#e6e6e6" stroke-width="0.55" >com.heytap.accessory [12487]</text>
<text x="998.8" y="377.6" font-size="19.98" fill="#e5e5e5" textLength="184.2" lengthAdjust="spacingAndGlyphs" stroke="#e5e5e5" stroke-width="0.49500000000000005" >binder:12487<tspan dy="-2.40">_</tspan><tspan dy="2.40">2 [12512]</tspan></text>
<rect x="1441.0" y="330.0" width="180.5" height="60.0" fill="#17648f" />
<rect x="1447.0" y="336.0" width="168.5" height="48.0" fill="#1b9ad8" />
<text x="1459.7" y="357.6" font-size="24.84" fill="#ffffff" textLength="126.9" lengthAdjust="spacingAndGlyphs" stroke="#ffffff" stroke-width="0.9" >com.oplus.pa</text>
<text x="1587.0" y="357.6" font-size="24.84" fill="#ffffff" textLength="15.1" lengthAdjust="spacingAndGlyphs" stroke="#ffffff" stroke-width="0.9" >…</text>
<text x="1467.8" y="377.6" font-size="19.98" fill="#bfe3f6" textLength="113.4" lengthAdjust="spacingAndGlyphs" stroke="#bfe3f6" stroke-width="0.81" >UMSDecisionS</text>
<text x="1581.6" y="377.6" font-size="19.98" fill="#bfe3f6" textLength="12.1" lengthAdjust="spacingAndGlyphs" stroke="#bfe3f6" stroke-width="0.81" >…</text>
<rect x="1621.5" y="336.0" width="170.1" height="48.0" fill="#c1c1c1" />
<rect x="1791.6" y="336.0" width="95.9" height="48.0" fill="#1b9ad8" />
<text x="1800.0" y="357.6" font-size="24.84" fill="#ffffff" textLength="66.6" lengthAdjust="spacingAndGlyphs" stroke="#ffffff" stroke-width="0.9" >com.o</text>
<text x="1867.0" y="357.6" font-size="24.84" fill="#ffffff" textLength="15.1" lengthAdjust="spacingAndGlyphs" stroke="#ffffff" stroke-width="0.9" >…</text>
<text x="1806.0" y="377.6" font-size="19.98" fill="#bfe3f6" textLength="57.2" lengthAdjust="spacingAndGlyphs" stroke="#bfe3f6" stroke-width="0.81" >UMSDec</text>
<text x="1863.6" y="377.6" font-size="19.98" fill="#bfe3f6" textLength="12.1" lengthAdjust="spacingAndGlyphs" stroke="#bfe3f6" stroke-width="0.81" >…</text>
<rect x="1887.5" y="336.0" width="90.5" height="48.0" fill="#c1c1c1" />
<text x="1891.6" y="357.6" font-size="24.84" fill="#e6e6e6" textLength="67.3" lengthAdjust="spacingAndGlyphs" stroke="#e6e6e6" stroke-width="0.55" >system</text>
<text x="1959.4" y="357.6" font-size="24.84" fill="#e6e6e6" textLength="15.1" lengthAdjust="spacingAndGlyphs" stroke="#e6e6e6" stroke-width="0.55" >…</text>
<text x="1902.9" y="377.6" font-size="19.98" fill="#e5e5e5" textLength="47.5" lengthAdjust="spacingAndGlyphs" stroke="#e5e5e5" stroke-width="0.49500000000000005" >binder</text>
<text x="1950.7" y="377.6" font-size="19.98" fill="#e5e5e5" textLength="12.1" lengthAdjust="spacingAndGlyphs" stroke="#e5e5e5" stroke-width="0.49500000000000005" >…</text>
<rect x="1978.0" y="336.0" width="30.0" height="48.0" fill="#1b9ad8" />
<text x="1985.0" y="357.6" font-size="24.84" fill="#ffffff" textLength="25.6" lengthAdjust="spacingAndGlyphs" stroke="#ffffff" stroke-width="0.9" >co</text>
<text x="2011.0" y="357.6" font-size="24.84" fill="#ffffff" textLength="15.1" lengthAdjust="spacingAndGlyphs" stroke="#ffffff" stroke-width="0.9" >…</text>
<text x="1988.0" y="377.6" font-size="19.98" fill="#bfe3f6" textLength="31.2" lengthAdjust="spacingAndGlyphs" stroke="#bfe3f6" stroke-width="0.81" >UM</text>
<text x="2019.6" y="377.6" font-size="19.98" fill="#bfe3f6" textLength="12.1" lengthAdjust="spacingAndGlyphs" stroke="#bfe3f6" stroke-width="0.81" >…</text>
<rect x="496.0" y="396.0" width="1512.0" height="48.0" fill="#c1c1c1" />
<rect x="1723.0" y="396.0" width="32.5" height="48.0" fill="#c1c1c1" />
<rect x="1723.0" y="396.0" width="32.5" height="48" fill="url(#hatch)"/>
<rect x="1722.2" y="396.0" width="1.6" height="48.0" fill="#a6a6a6" />
<rect x="1754.7" y="396.0" width="1.6" height="48.0" fill="#a6a6a6" />
<rect x="1779.7" y="396.0" width="1.6" height="48.0" fill="#a6a6a6" />
<rect x="1878.2" y="396.0" width="1.6" height="48.0" fill="#a6a6a6" />
<text x="1047.8" y="417.6" font-size="24.84" fill="#e6e6e6" textLength="124.2" lengthAdjust="spacingAndGlyphs" stroke="#e6e6e6" stroke-width="0.55" >kswapd0 [99]</text>
<text x="1058.0" y="437.6" font-size="19.98" fill="#e5e5e5" textLength="104.0" lengthAdjust="spacingAndGlyphs" stroke="#e5e5e5" stroke-width="0.49500000000000005" >kswapd0 [99]</text>
<text x="1739.0" y="417.6" font-size="24.84" fill="#e6e6e6" textLength="10.6" lengthAdjust="spacingAndGlyphs" text-anchor="middle" stroke="#e6e6e6" stroke-width="0.55" >s</text>
<text x="1739.0" y="437.6" font-size="19.98" fill="#e5e5e5" textLength="10.4" lengthAdjust="spacingAndGlyphs" text-anchor="middle" stroke="#e5e5e5" stroke-width="0.49500000000000005" >T</text>
<text x="1768.0" y="417.6" font-size="24.84" fill="#e6e6e6" textLength="10.6" lengthAdjust="spacingAndGlyphs" text-anchor="middle" stroke="#e6e6e6" stroke-width="0.55" >k</text>
<text x="1768.0" y="437.6" font-size="19.98" fill="#e5e5e5" textLength="8.5" lengthAdjust="spacingAndGlyphs" text-anchor="middle" stroke="#e5e5e5" stroke-width="0.49500000000000005" >k</text>
<text x="1785.1" y="417.6" font-size="24.84" fill="#e6e6e6" textLength="75.5" lengthAdjust="spacingAndGlyphs" stroke="#e6e6e6" stroke-width="0.55" >com.um</text>
<text x="1861.1" y="417.6" font-size="24.84" fill="#e6e6e6" textLength="15.1" lengthAdjust="spacingAndGlyphs" stroke="#e6e6e6" stroke-width="0.55" >…</text>
<text x="1800.5" y="437.6" font-size="19.98" fill="#e5e5e5" textLength="47.5" lengthAdjust="spacingAndGlyphs" stroke="#e5e5e5" stroke-width="0.49500000000000005" >ndroid</text>
<text x="1848.3" y="437.6" font-size="19.98" fill="#e5e5e5" textLength="12.1" lengthAdjust="spacingAndGlyphs" stroke="#e5e5e5" stroke-width="0.49500000000000005" >…</text>
<text x="1910.0" y="417.6" font-size="24.84" fill="#e6e6e6" textLength="124.0" lengthAdjust="spacingAndGlyphs" stroke="#e6e6e6" stroke-width="0.55" >kswapd0 [99]</text>
<text x="1920.0" y="437.6" font-size="19.98" fill="#e5e5e5" textLength="104.0" lengthAdjust="spacingAndGlyphs" stroke="#e5e5e5" stroke-width="0.49500000000000005" >kswapd0 [99]</text>
<rect x="496.0" y="456.0" width="181.7" height="48.0" fill="#c1c1c1" />
<rect x="570.5" y="456.0" width="1.6" height="48.0" fill="#a6a6a6" />
<text x="508.1" y="477.6" font-size="24.84" fill="#e6e6e6" textLength="37.8" lengthAdjust="spacingAndGlyphs" stroke="#e6e6e6" stroke-width="0.55" >syst</text>
<text x="546.3" y="477.6" font-size="24.84" fill="#e6e6e6" textLength="15.1" lengthAdjust="spacingAndGlyphs" stroke="#e6e6e6" stroke-width="0.55" >…</text>
<text x="512.2" y="497.6" font-size="19.98" fill="#e5e5e5" textLength="32.3" lengthAdjust="spacingAndGlyphs" stroke="#e5e5e5" stroke-width="0.49500000000000005" >bind</text>
<text x="544.8" y="497.6" font-size="19.98" fill="#e5e5e5" textLength="12.1" lengthAdjust="spacingAndGlyphs" stroke="#e5e5e5" stroke-width="0.49500000000000005" >…</text>
<text x="580.0" y="477.6" font-size="24.84" fill="#e6e6e6" textLength="74.4" lengthAdjust="spacingAndGlyphs" stroke="#e6e6e6" stroke-width="0.55" >com.opl</text>
<text x="654.8" y="477.6" font-size="24.84" fill="#e6e6e6" textLength="15.1" lengthAdjust="spacingAndGlyphs" stroke="#e6e6e6" stroke-width="0.55" >…</text>
<text x="591.9" y="497.6" font-size="19.98" fill="#e5e5e5" textLength="53.2" lengthAdjust="spacingAndGlyphs" stroke="#e5e5e5" stroke-width="0.49500000000000005" >pool-8-</text>
<text x="645.5" y="497.6" font-size="19.98" fill="#e5e5e5" textLength="12.1" lengthAdjust="spacingAndGlyphs" stroke="#e5e5e5" stroke-width="0.49500000000000005" >…</text>
<rect x="685.0" y="456.0" width="4.4" height="48.0" fill="#c1c1c1" />
<rect x="694.7" y="456.0" width="5.9" height="48.0" fill="#c1c1c1" />
<rect x="704.6" y="456.0" width="27.0" height="48.0" fill="#c1c1c1" />
<rect x="704.6" y="456.0" width="27.0" height="48" fill="url(#hatch)"/>
<text x="717.8" y="477.6" font-size="24.84" fill="#e6e6e6" textLength="10.6" lengthAdjust="spacingAndGlyphs" text-anchor="middle" stroke="#e6e6e6" stroke-width="0.55" >k</text>
<text x="717.8" y="497.6" font-size="19.98" fill="#e5e5e5" textLength="8.5" lengthAdjust="spacingAndGlyphs" text-anchor="middle" stroke="#e5e5e5" stroke-width="0.49500000000000005" >k</text>
<rect x="737.2" y="456.0" width="3.8" height="48.0" fill="#c1c1c1" />
<rect x="748.8" y="456.0" width="19.0" height="48.0" fill="#c1c1c1" />
<rect x="748.8" y="456.0" width="19.0" height="48" fill="url(#hatch)"/>
<rect x="777.6" y="456.0" width="11.2" height="48.0" fill="#c1c1c1" />
<rect x="793.0" y="456.0" width="74.8" height="48.0" fill="#c1c1c1" />
<text x="801.3" y="477.6" font-size="24.84" fill="#e6e6e6" textLength="44.8" lengthAdjust="spacingAndGlyphs" stroke="#e6e6e6" stroke-width="0.55" >kwor</text>
<text x="846.6" y="477.6" font-size="24.84" fill="#e6e6e6" textLength="15.1" lengthAdjust="spacingAndGlyphs" stroke="#e6e6e6" stroke-width="0.55" >…</text>
<text x="807.0" y="497.6" font-size="19.98" fill="#e5e5e5" textLength="36.1" lengthAdjust="spacingAndGlyphs" stroke="#e5e5e5" stroke-width="0.49500000000000005" >kwor</text>
<text x="843.4" y="497.6" font-size="19.98" fill="#e5e5e5" textLength="12.1" lengthAdjust="spacingAndGlyphs" stroke="#e5e5e5" stroke-width="0.49500000000000005" >…</text>
<rect x="872.0" y="456.0" width="154.8" height="48.0" fill="#c1c1c1" />
<rect x="919.8" y="456.0" width="1.6" height="48.0" fill="#a6a6a6" />
<rect x="996.2" y="456.0" width="1.6" height="48.0" fill="#a6a6a6" />
<text x="878.5" y="477.6" font-size="24.84" fill="#e6e6e6" textLength="22.4" lengthAdjust="spacingAndGlyphs" stroke="#e6e6e6" stroke-width="0.55" >co</text>
<text x="901.4" y="477.6" font-size="24.84" fill="#e6e6e6" textLength="15.1" lengthAdjust="spacingAndGlyphs" stroke="#e6e6e6" stroke-width="0.55" >…</text>
<text x="881.5" y="497.6" font-size="19.98" fill="#e5e5e5" textLength="19.0" lengthAdjust="spacingAndGlyphs" stroke="#e5e5e5" stroke-width="0.49500000000000005" >po</text>
<text x="900.9" y="497.6" font-size="19.98" fill="#e5e5e5" textLength="12.1" lengthAdjust="spacingAndGlyphs" stroke="#e5e5e5" stroke-width="0.49500000000000005" >…</text>
<text x="933.0" y="477.6" font-size="24.84" fill="#e6e6e6" textLength="37.8" lengthAdjust="spacingAndGlyphs" stroke="#e6e6e6" stroke-width="0.55" >syst</text>
<text x="971.2" y="477.6" font-size="24.84" fill="#e6e6e6" textLength="15.1" lengthAdjust="spacingAndGlyphs" stroke="#e6e6e6" stroke-width="0.55" >…</text>
<text x="937.1" y="497.6" font-size="19.98" fill="#e5e5e5" textLength="32.3" lengthAdjust="spacingAndGlyphs" stroke="#e5e5e5" stroke-width="0.49500000000000005" >bind</text>
<text x="969.7" y="497.6" font-size="19.98" fill="#e5e5e5" textLength="12.1" lengthAdjust="spacingAndGlyphs" stroke="#e5e5e5" stroke-width="0.49500000000000005" >…</text>
<text x="1011.6" y="477.6" font-size="24.84" fill="#e6e6e6" textLength="10.6" lengthAdjust="spacingAndGlyphs" text-anchor="middle" stroke="#e6e6e6" stroke-width="0.55" >c</text>
<text x="1011.6" y="497.6" font-size="19.98" fill="#e5e5e5" textLength="9.5" lengthAdjust="spacingAndGlyphs" text-anchor="middle" stroke="#e5e5e5" stroke-width="0.49500000000000005" >p</text>
<rect x="1039.0" y="456.0" width="214.7" height="48.0" fill="#c1c1c1" />
<rect x="1129.7" y="456.0" width="35.3" height="48.0" fill="#c1c1c1" />
<rect x="1129.7" y="456.0" width="35.3" height="48" fill="url(#hatch)"/>
<rect x="1174.3" y="456.0" width="22.7" height="48.0" fill="#c1c1c1" />
<rect x="1174.3" y="456.0" width="22.7" height="48" fill="url(#hatch)"/>
<rect x="1078.9" y="456.0" width="1.6" height="48.0" fill="#a6a6a6" />
<rect x="1081.9" y="456.0" width="1.6" height="48.0" fill="#a6a6a6" />
<rect x="1083.7" y="456.0" width="1.6" height="48.0" fill="#a6a6a6" />
<rect x="1097.2" y="456.0" width="1.6" height="48.0" fill="#a6a6a6" />
<rect x="1100.7" y="456.0" width="1.6" height="48.0" fill="#a6a6a6" />
<rect x="1117.2" y="456.0" width="1.6" height="48.0" fill="#a6a6a6" />
<rect x="1121.2" y="456.0" width="1.6" height="48.0" fill="#a6a6a6" />
<rect x="1128.9" y="456.0" width="1.6" height="48.0" fill="#a6a6a6" />
<rect x="1164.2" y="456.0" width="1.6" height="48.0" fill="#a6a6a6" />
<rect x="1173.5" y="456.0" width="1.6" height="48.0" fill="#a6a6a6" />
<rect x="1196.2" y="456.0" width="1.6" height="48.0" fill="#a6a6a6" />
<text x="1047.0" y="477.6" font-size="24.84" fill="#e6e6e6" textLength="10.6" lengthAdjust="spacingAndGlyphs" stroke="#e6e6e6" stroke-width="0.55" >c</text>
<text x="1058.1" y="477.6" font-size="24.84" fill="#e6e6e6" textLength="15.1" lengthAdjust="spacingAndGlyphs" stroke="#e6e6e6" stroke-width="0.55" >…</text>
<text x="1048.8" y="497.6" font-size="19.98" fill="#e5e5e5" textLength="9.5" lengthAdjust="spacingAndGlyphs" stroke="#e5e5e5" stroke-width="0.49500000000000005" >a</text>
<text x="1058.7" y="497.6" font-size="19.98" fill="#e5e5e5" textLength="12.1" lengthAdjust="spacingAndGlyphs" stroke="#e5e5e5" stroke-width="0.49500000000000005" >…</text>
<text x="1135.0" y="477.6" font-size="24.84" fill="#e6e6e6" textLength="10.6" lengthAdjust="spacingAndGlyphs" stroke="#e6e6e6" stroke-width="0.55" >k</text>
<text x="1146.1" y="477.6" font-size="24.84" fill="#e6e6e6" textLength="15.1" lengthAdjust="spacingAndGlyphs" stroke="#e6e6e6" stroke-width="0.55" >…</text>
<text x="1137.3" y="497.6" font-size="19.98" fill="#e5e5e5" textLength="8.5" lengthAdjust="spacingAndGlyphs" stroke="#e5e5e5" stroke-width="0.49500000000000005" >k</text>
<text x="1146.3" y="497.6" font-size="19.98" fill="#e5e5e5" textLength="12.1" lengthAdjust="spacingAndGlyphs" stroke="#e5e5e5" stroke-width="0.49500000000000005" >…</text>
<text x="1185.6" y="477.6" font-size="24.84" fill="#e6e6e6" textLength="10.6" lengthAdjust="spacingAndGlyphs" text-anchor="middle" stroke="#e6e6e6" stroke-width="0.55" >k</text>
<text x="1185.6" y="497.6" font-size="19.98" fill="#e5e5e5" textLength="8.5" lengthAdjust="spacingAndGlyphs" text-anchor="middle" stroke="#e5e5e5" stroke-width="0.49500000000000005" >k</text>
<text x="1207.1" y="477.6" font-size="24.84" fill="#e6e6e6" textLength="22.4" lengthAdjust="spacingAndGlyphs" stroke="#e6e6e6" stroke-width="0.55" >co</text>
<text x="1230.0" y="477.6" font-size="24.84" fill="#e6e6e6" textLength="15.1" lengthAdjust="spacingAndGlyphs" stroke="#e6e6e6" stroke-width="0.55" >…</text>
<text x="1210.6" y="497.6" font-size="19.98" fill="#e5e5e5" textLength="18.0" lengthAdjust="spacingAndGlyphs" stroke="#e5e5e5" stroke-width="0.49500000000000005" >ac</text>
<text x="1229.0" y="497.6" font-size="19.98" fill="#e5e5e5" textLength="12.1" lengthAdjust="spacingAndGlyphs" stroke="#e5e5e5" stroke-width="0.49500000000000005" >…</text>
<rect x="1261.6" y="456.0" width="19.0" height="48.0" fill="#c1c1c1" />
<rect x="1341.0" y="456.0" width="55.0" height="48.0" fill="#c1c1c1" />
<rect x="1341.0" y="456.0" width="55.0" height="48" fill="url(#hatch)"/>
<text x="1350.0" y="477.6" font-size="24.84" fill="#e6e6e6" textLength="26.0" lengthAdjust="spacingAndGlyphs" stroke="#e6e6e6" stroke-width="0.55" >kw</text>
<text x="1376.4" y="477.6" font-size="24.84" fill="#e6e6e6" textLength="15.1" lengthAdjust="spacingAndGlyphs" stroke="#e6e6e6" stroke-width="0.55" >…</text>
<text x="1353.9" y="497.6" font-size="19.98" fill="#e5e5e5" textLength="20.9" lengthAdjust="spacingAndGlyphs" stroke="#e5e5e5" stroke-width="0.49500000000000005" >kw</text>
<text x="1375.1" y="497.6" font-size="19.98" fill="#e5e5e5" textLength="12.1" lengthAdjust="spacingAndGlyphs" stroke="#e5e5e5" stroke-width="0.49500000000000005" >…</text>
<rect x="1409.0" y="456.0" width="4.0" height="48.0" fill="#c1c1c1" />
<rect x="1425.0" y="456.0" width="22.7" height="48.0" fill="#c1c1c1" />
<rect x="1440.2" y="456.0" width="1.6" height="48.0" fill="#a6a6a6" />
<rect x="1443.2" y="456.0" width="1.6" height="48.0" fill="#a6a6a6" />
<rect x="1450.0" y="456.0" width="347.0" height="48.0" fill="#c1c1c1" />
<rect x="1553.2" y="456.0" width="1.6" height="48.0" fill="#a6a6a6" />
<rect x="1611.2" y="456.0" width="1.6" height="48.0" fill="#a6a6a6" />
<rect x="1641.9" y="456.0" width="1.6" height="48.0" fill="#a6a6a6" />
<rect x="1670.8" y="456.0" width="1.6" height="48.0" fill="#a6a6a6" />
<rect x="1716.7" y="456.0" width="1.6" height="48.0" fill="#a6a6a6" />
<rect x="1754.8" y="456.0" width="1.6" height="48.0" fill="#a6a6a6" />
<text x="1455.7" y="477.6" font-size="24.84" fill="#e6e6e6" textLength="79.1" lengthAdjust="spacingAndGlyphs" stroke="#e6e6e6" stroke-width="0.55" >system<tspan dy="-2.98">_</tspan></text>
<text x="1535.3" y="477.6" font-size="24.84" fill="#e6e6e6" textLength="15.1" lengthAdjust="spacingAndGlyphs" stroke="#e6e6e6" stroke-width="0.55" >…</text>
<text x="1470.5" y="497.6" font-size="19.98" fill="#e5e5e5" textLength="52.2" lengthAdjust="spacingAndGlyphs" stroke="#e5e5e5" stroke-width="0.49500000000000005" >binder:</text>
<text x="1523.1" y="497.6" font-size="19.98" fill="#e5e5e5" textLength="12.1" lengthAdjust="spacingAndGlyphs" stroke="#e5e5e5" stroke-width="0.49500000000000005" >…</text>
<text x="1556.1" y="477.6" font-size="24.84" fill="#e6e6e6" textLength="40.1" lengthAdjust="spacingAndGlyphs" stroke="#e6e6e6" stroke-width="0.55" >com</text>
<text x="1596.7" y="477.6" font-size="24.84" fill="#e6e6e6" textLength="15.1" lengthAdjust="spacingAndGlyphs" stroke="#e6e6e6" stroke-width="0.55" >…</text>
<text x="1566.1" y="497.6" font-size="19.98" fill="#e5e5e5" textLength="22.8" lengthAdjust="spacingAndGlyphs" stroke="#e5e5e5" stroke-width="0.49500000000000005" >bin</text>
<text x="1589.3" y="497.6" font-size="19.98" fill="#e5e5e5" textLength="12.1" lengthAdjust="spacingAndGlyphs" stroke="#e5e5e5" stroke-width="0.49500000000000005" >…</text>
<text x="1627.0" y="477.6" font-size="24.84" fill="#e6e6e6" textLength="10.6" lengthAdjust="spacingAndGlyphs" text-anchor="middle" stroke="#e6e6e6" stroke-width="0.55" >s</text>
<text x="1627.0" y="497.6" font-size="19.98" fill="#e5e5e5" textLength="9.5" lengthAdjust="spacingAndGlyphs" text-anchor="middle" stroke="#e5e5e5" stroke-width="0.49500000000000005" >b</text>
<text x="1656.7" y="477.6" font-size="24.84" fill="#e6e6e6" textLength="10.6" lengthAdjust="spacingAndGlyphs" text-anchor="middle" stroke="#e6e6e6" stroke-width="0.55" >c</text>
<text x="1656.7" y="497.6" font-size="19.98" fill="#e5e5e5" textLength="9.5" lengthAdjust="spacingAndGlyphs" text-anchor="middle" stroke="#e5e5e5" stroke-width="0.49500000000000005" >b</text>
<text x="1676.5" y="477.6" font-size="24.84" fill="#e6e6e6" textLength="21.2" lengthAdjust="spacingAndGlyphs" stroke="#e6e6e6" stroke-width="0.55" >sy</text>
<text x="1698.2" y="477.6" font-size="24.84" fill="#e6e6e6" textLength="15.1" lengthAdjust="spacingAndGlyphs" stroke="#e6e6e6" stroke-width="0.55" >…</text>
<text x="1681.7" y="497.6" font-size="19.98" fill="#e5e5e5" textLength="13.3" lengthAdjust="spacingAndGlyphs" stroke="#e5e5e5" stroke-width="0.49500000000000005" >bi</text>
<text x="1695.4" y="497.6" font-size="19.98" fill="#e5e5e5" textLength="12.1" lengthAdjust="spacingAndGlyphs" stroke="#e5e5e5" stroke-width="0.49500000000000005" >…</text>
<text x="1724.4" y="477.6" font-size="24.84" fill="#e6e6e6" textLength="10.6" lengthAdjust="spacingAndGlyphs" stroke="#e6e6e6" stroke-width="0.55" >c</text>
<text x="1735.5" y="477.6" font-size="24.84" fill="#e6e6e6" textLength="15.1" lengthAdjust="spacingAndGlyphs" stroke="#e6e6e6" stroke-width="0.55" >…</text>
<text x="1726.2" y="497.6" font-size="19.98" fill="#e5e5e5" textLength="9.5" lengthAdjust="spacingAndGlyphs" stroke="#e5e5e5" stroke-width="0.49500000000000005" >b</text>
<text x="1736.1" y="497.6" font-size="19.98" fill="#e5e5e5" textLength="12.1" lengthAdjust="spacingAndGlyphs" stroke="#e5e5e5" stroke-width="0.49500000000000005" >…</text>
<text x="1763.6" y="477.6" font-size="24.84" fill="#e6e6e6" textLength="10.6" lengthAdjust="spacingAndGlyphs" stroke="#e6e6e6" stroke-width="0.55" >s</text>
<text x="1774.7" y="477.6" font-size="24.84" fill="#e6e6e6" textLength="15.1" lengthAdjust="spacingAndGlyphs" stroke="#e6e6e6" stroke-width="0.55" >…</text>
<text x="1765.4" y="497.6" font-size="19.98" fill="#e5e5e5" textLength="9.5" lengthAdjust="spacingAndGlyphs" stroke="#e5e5e5" stroke-width="0.49500000000000005" >b</text>
<text x="1775.3" y="497.6" font-size="19.98" fill="#e5e5e5" textLength="12.1" lengthAdjust="spacingAndGlyphs" stroke="#e5e5e5" stroke-width="0.49500000000000005" >…</text>
<rect x="1810.5" y="456.0" width="32.5" height="48.0" fill="#c1c1c1" />
<text x="1826.7" y="477.6" font-size="24.84" fill="#e6e6e6" textLength="10.6" lengthAdjust="spacingAndGlyphs" text-anchor="middle" stroke="#e6e6e6" stroke-width="0.55" >s</text>
<text x="1826.7" y="497.6" font-size="19.98" fill="#e5e5e5" textLength="9.5" lengthAdjust="spacingAndGlyphs" text-anchor="middle" stroke="#e5e5e5" stroke-width="0.49500000000000005" >b</text>
<rect x="1856.6" y="456.0" width="22.9" height="48.0" fill="#c1c1c1" />
<rect x="1856.6" y="456.0" width="22.9" height="48" fill="url(#hatch)"/>
<rect x="1891.0" y="456.0" width="6.0" height="48.0" fill="#c1c1c1" />
<rect x="1899.0" y="456.0" width="15.0" height="48.0" fill="#c1c1c1" />
<rect x="1904.2" y="456.0" width="1.6" height="48.0" fill="#a6a6a6" />
<rect x="1929.6" y="456.0" width="50.1" height="48.0" fill="#c1c1c1" />
<rect x="1929.6" y="456.0" width="50.1" height="48" fill="url(#hatch)"/>
<text x="1934.7" y="477.6" font-size="24.84" fill="#e6e6e6" textLength="26.0" lengthAdjust="spacingAndGlyphs" stroke="#e6e6e6" stroke-width="0.55" >kw</text>
<text x="1961.1" y="477.6" font-size="24.84" fill="#e6e6e6" textLength="15.1" lengthAdjust="spacingAndGlyphs" stroke="#e6e6e6" stroke-width="0.55" >…</text>
<text x="1938.6" y="497.6" font-size="19.98" fill="#e5e5e5" textLength="20.9" lengthAdjust="spacingAndGlyphs" stroke="#e5e5e5" stroke-width="0.49500000000000005" >kw</text>
<text x="1959.8" y="497.6" font-size="19.98" fill="#e5e5e5" textLength="12.1" lengthAdjust="spacingAndGlyphs" stroke="#e5e5e5" stroke-width="0.49500000000000005" >…</text>
<rect x="1993.0" y="456.0" width="15.0" height="48.0" fill="#c1c1c1" />
<text x="1998.0" y="477.6" font-size="24.84" fill="#e6e6e6" textLength="10.6" lengthAdjust="spacingAndGlyphs" stroke="#e6e6e6" stroke-width="0.55" >c</text>
<text x="2009.0" y="477.6" font-size="24.84" fill="#e6e6e6" textLength="15.1" lengthAdjust="spacingAndGlyphs" stroke="#e6e6e6" stroke-width="0.55" >…</text>
<text x="2000.0" y="497.6" font-size="19.98" fill="#e5e5e5" textLength="9.2" lengthAdjust="spacingAndGlyphs" stroke="#e5e5e5" stroke-width="0.49500000000000005" >T</text>
<text x="2009.6" y="497.6" font-size="19.98" fill="#e5e5e5" textLength="12.1" lengthAdjust="spacingAndGlyphs" stroke="#e5e5e5" stroke-width="0.49500000000000005" >…</text>
<rect x="496.0" y="516.0" width="10.8" height="48.0" fill="#c1c1c1" />
<rect x="522.0" y="516.0" width="3.8" height="48.0" fill="#c1c1c1" />
<rect x="537.8" y="516.0" width="38.1" height="48.0" fill="#c1c1c1" />
<text x="544.5" y="537.6" font-size="24.84" fill="#e6e6e6" textLength="10.6" lengthAdjust="spacingAndGlyphs" stroke="#e6e6e6" stroke-width="0.55" >k</text>
<text x="555.6" y="537.6" font-size="24.84" fill="#e6e6e6" textLength="15.1" lengthAdjust="spacingAndGlyphs" stroke="#e6e6e6" stroke-width="0.55" >…</text>
<text x="546.8" y="557.6" font-size="19.98" fill="#e5e5e5" textLength="8.5" lengthAdjust="spacingAndGlyphs" stroke="#e5e5e5" stroke-width="0.49500000000000005" >k</text>
<text x="555.8" y="557.6" font-size="19.98" fill="#e5e5e5" textLength="12.1" lengthAdjust="spacingAndGlyphs" stroke="#e5e5e5" stroke-width="0.49500000000000005" >…</text>
<rect x="606.8" y="516.0" width="31.7" height="48.0" fill="#c1c1c1" />
<rect x="606.8" y="516.0" width="31.7" height="48" fill="url(#hatch)"/>
<text x="623.0" y="537.6" font-size="24.84" fill="#e6e6e6" textLength="10.6" lengthAdjust="spacingAndGlyphs" text-anchor="middle" stroke="#e6e6e6" stroke-width="0.55" >k</text>
<text x="623.0" y="557.6" font-size="19.98" fill="#e5e5e5" textLength="8.5" lengthAdjust="spacingAndGlyphs" text-anchor="middle" stroke="#e5e5e5" stroke-width="0.49500000000000005" >k</text>
<rect x="638.5" y="516.0" width="73.5" height="48.0" fill="#c1c1c1" />
<rect x="637.7" y="516.0" width="1.6" height="48.0" fill="#a6a6a6" />
<text x="645.6" y="537.6" font-size="24.84" fill="#e6e6e6" textLength="44.8" lengthAdjust="spacingAndGlyphs" stroke="#e6e6e6" stroke-width="0.55" >kwor</text>
<text x="690.9" y="537.6" font-size="24.84" fill="#e6e6e6" textLength="15.1" lengthAdjust="spacingAndGlyphs" stroke="#e6e6e6" stroke-width="0.55" >…</text>
<text x="651.3" y="557.6" font-size="19.98" fill="#e5e5e5" textLength="36.1" lengthAdjust="spacingAndGlyphs" stroke="#e5e5e5" stroke-width="0.49500000000000005" >kwor</text>
<text x="687.7" y="557.6" font-size="19.98" fill="#e5e5e5" textLength="12.1" lengthAdjust="spacingAndGlyphs" stroke="#e5e5e5" stroke-width="0.49500000000000005" >…</text>
<rect x="720.0" y="516.0" width="57.6" height="48.0" fill="#c1c1c1" />
<rect x="720.0" y="516.0" width="57.6" height="48" fill="url(#hatch)"/>
<text x="722.8" y="537.6" font-size="24.84" fill="#e6e6e6" textLength="26.0" lengthAdjust="spacingAndGlyphs" stroke="#e6e6e6" stroke-width="0.55" >kw</text>
<text x="749.2" y="537.6" font-size="24.84" fill="#e6e6e6" textLength="15.1" lengthAdjust="spacingAndGlyphs" stroke="#e6e6e6" stroke-width="0.55" >…</text>
<text x="726.7" y="557.6" font-size="19.98" fill="#e5e5e5" textLength="20.9" lengthAdjust="spacingAndGlyphs" stroke="#e5e5e5" stroke-width="0.49500000000000005" >kw</text>
<text x="747.9" y="557.6" font-size="19.98" fill="#e5e5e5" textLength="12.1" lengthAdjust="spacingAndGlyphs" stroke="#e5e5e5" stroke-width="0.49500000000000005" >…</text>
<rect x="783.6" y="516.0" width="28.4" height="48.0" fill="#c1c1c1" />
<rect x="783.6" y="516.0" width="28.4" height="48" fill="url(#hatch)"/>
<text x="797.3" y="537.6" font-size="24.84" fill="#e6e6e6" textLength="10.6" lengthAdjust="spacingAndGlyphs" text-anchor="middle" stroke="#e6e6e6" stroke-width="0.55" >k</text>
<text x="797.3" y="557.6" font-size="19.98" fill="#e5e5e5" textLength="8.5" lengthAdjust="spacingAndGlyphs" text-anchor="middle" stroke="#e5e5e5" stroke-width="0.49500000000000005" >k</text>
<rect x="839.3" y="516.0" width="55.3" height="48.0" fill="#c1c1c1" />
<rect x="839.3" y="516.0" width="55.3" height="48" fill="url(#hatch)"/>
<text x="848.8" y="537.6" font-size="24.84" fill="#e6e6e6" textLength="22.4" lengthAdjust="spacingAndGlyphs" stroke="#e6e6e6" stroke-width="0.55" >su</text>
<text x="871.7" y="537.6" font-size="24.84" fill="#e6e6e6" textLength="15.1" lengthAdjust="spacingAndGlyphs" stroke="#e6e6e6" stroke-width="0.55" >…</text>
<text x="849.4" y="557.6" font-size="19.98" fill="#e5e5e5" textLength="23.7" lengthAdjust="spacingAndGlyphs" stroke="#e5e5e5" stroke-width="0.49500000000000005" >ma</text>
<text x="873.5" y="557.6" font-size="19.98" fill="#e5e5e5" textLength="12.1" lengthAdjust="spacingAndGlyphs" stroke="#e5e5e5" stroke-width="0.49500000000000005" >…</text>
<rect x="908.0" y="516.0" width="40.5" height="48.0" fill="#c1c1c1" />
<rect x="908.0" y="516.0" width="40.5" height="48" fill="url(#hatch)"/>
<text x="916.0" y="537.6" font-size="24.84" fill="#e6e6e6" textLength="10.6" lengthAdjust="spacingAndGlyphs" stroke="#e6e6e6" stroke-width="0.55" >k</text>
<text x="927.1" y="537.6" font-size="24.84" fill="#e6e6e6" textLength="15.1" lengthAdjust="spacingAndGlyphs" stroke="#e6e6e6" stroke-width="0.55" >…</text>
<text x="918.3" y="557.6" font-size="19.98" fill="#e5e5e5" textLength="8.5" lengthAdjust="spacingAndGlyphs" stroke="#e5e5e5" stroke-width="0.49500000000000005" >k</text>
<text x="927.3" y="557.6" font-size="19.98" fill="#e5e5e5" textLength="12.1" lengthAdjust="spacingAndGlyphs" stroke="#e5e5e5" stroke-width="0.49500000000000005" >…</text>
<rect x="977.4" y="516.0" width="3.6" height="48.0" fill="#c1c1c1" />
<rect x="1000.4" y="516.0" width="9.4" height="48.0" fill="#c1c1c1" />
<rect x="1027.0" y="516.0" width="117.0" height="48.0" fill="#c1c1c1" />
<text x="1034.2" y="537.6" font-size="24.84" fill="#e6e6e6" textLength="89.7" lengthAdjust="spacingAndGlyphs" stroke="#e6e6e6" stroke-width="0.55" >system<tspan dy="-2.98">_</tspan><tspan dy="2.98">s</tspan></text>
<text x="1124.4" y="537.6" font-size="24.84" fill="#e6e6e6" textLength="15.1" lengthAdjust="spacingAndGlyphs" stroke="#e6e6e6" stroke-width="0.55" >…</text>
<text x="1049.5" y="557.6" font-size="19.98" fill="#e5e5e5" textLength="61.7" lengthAdjust="spacingAndGlyphs" stroke="#e5e5e5" stroke-width="0.49500000000000005" >binder:2</text>
<text x="1111.6" y="557.6" font-size="19.98" fill="#e5e5e5" textLength="12.1" lengthAdjust="spacingAndGlyphs" stroke="#e5e5e5" stroke-width="0.49500000000000005" >…</text>
<rect x="1154.0" y="516.0" width="7.6" height="48.0" fill="#c1c1c1" />
<rect x="1169.0" y="516.0" width="27.0" height="48.0" fill="#c1c1c1" />
<rect x="1169.0" y="516.0" width="27.0" height="48" fill="url(#hatch)"/>
<text x="1182.5" y="537.6" font-size="24.84" fill="#e6e6e6" textLength="10.6" lengthAdjust="spacingAndGlyphs" text-anchor="middle" stroke="#e6e6e6" stroke-width="0.55" >k</text>
<text x="1182.5" y="557.6" font-size="19.98" fill="#e5e5e5" textLength="8.5" lengthAdjust="spacingAndGlyphs" text-anchor="middle" stroke="#e5e5e5" stroke-width="0.49500000000000005" >k</text>
<rect x="1248.0" y="516.0" width="30.7" height="48.0" fill="#c1c1c1" />
<text x="1263.3" y="537.6" font-size="24.84" fill="#e6e6e6" textLength="10.6" lengthAdjust="spacingAndGlyphs" text-anchor="middle" stroke="#e6e6e6" stroke-width="0.55" >s</text>
<text x="1263.3" y="557.6" font-size="19.98" fill="#e5e5e5" textLength="9.5" lengthAdjust="spacingAndGlyphs" text-anchor="middle" stroke="#e5e5e5" stroke-width="0.49500000000000005" >b</text>
<rect x="1338.0" y="516.0" width="168.0" height="48.0" fill="#c1c1c1" />
<rect x="1338.0" y="516.0" width="168.0" height="48" fill="url(#hatch)"/>
<text x="1354.3" y="537.6" font-size="24.84" fill="#e6e6e6" textLength="121.6" lengthAdjust="spacingAndGlyphs" stroke="#e6e6e6" stroke-width="0.55" >kworker/u18:</text>
<text x="1476.4" y="537.6" font-size="24.84" fill="#e6e6e6" textLength="15.1" lengthAdjust="spacingAndGlyphs" stroke="#e6e6e6" stroke-width="0.55" >…</text>
<text x="1367.5" y="557.6" font-size="19.98" fill="#e5e5e5" textLength="97.8" lengthAdjust="spacingAndGlyphs" stroke="#e5e5e5" stroke-width="0.49500000000000005" >kworker/u18:</text>
<text x="1465.7" y="557.6" font-size="19.98" fill="#e5e5e5" textLength="12.1" lengthAdjust="spacingAndGlyphs" stroke="#e5e5e5" stroke-width="0.49500000000000005" >…</text>
<rect x="1506.0" y="516.0" width="72.0" height="48.0" fill="#c1c1c1" />
<rect x="1505.2" y="516.0" width="1.6" height="48.0" fill="#a6a6a6" />
<text x="1516.0" y="537.6" font-size="24.84" fill="#e6e6e6" textLength="37.8" lengthAdjust="spacingAndGlyphs" stroke="#e6e6e6" stroke-width="0.55" >syst</text>
<text x="1554.2" y="537.6" font-size="24.84" fill="#e6e6e6" textLength="15.1" lengthAdjust="spacingAndGlyphs" stroke="#e6e6e6" stroke-width="0.55" >…</text>
<text x="1520.1" y="557.6" font-size="19.98" fill="#e5e5e5" textLength="32.3" lengthAdjust="spacingAndGlyphs" stroke="#e5e5e5" stroke-width="0.49500000000000005" >bind</text>
<text x="1552.7" y="557.6" font-size="19.98" fill="#e5e5e5" textLength="12.1" lengthAdjust="spacingAndGlyphs" stroke="#e5e5e5" stroke-width="0.49500000000000005" >…</text>
<rect x="1582.0" y="516.0" width="167.0" height="48.0" fill="#c1c1c1" />
<rect x="1582.0" y="516.0" width="18.6" height="48.0" fill="#c1c1c1" />
<rect x="1582.0" y="516.0" width="18.6" height="48" fill="url(#hatch)"/>
<rect x="1599.8" y="516.0" width="1.6" height="48.0" fill="#a6a6a6" />
<rect x="1634.2" y="516.0" width="1.6" height="48.0" fill="#a6a6a6" />
<rect x="1693.8" y="516.0" width="1.6" height="48.0" fill="#a6a6a6" />
<rect x="1703.2" y="516.0" width="1.6" height="48.0" fill="#a6a6a6" />
<text x="1605.0" y="537.6" font-size="24.84" fill="#e6e6e6" textLength="10.6" lengthAdjust="spacingAndGlyphs" stroke="#e6e6e6" stroke-width="0.55" >s</text>
<text x="1616.1" y="537.6" font-size="24.84" fill="#e6e6e6" textLength="15.1" lengthAdjust="spacingAndGlyphs" stroke="#e6e6e6" stroke-width="0.55" >…</text>
<text x="1606.8" y="557.6" font-size="19.98" fill="#e5e5e5" textLength="9.5" lengthAdjust="spacingAndGlyphs" stroke="#e5e5e5" stroke-width="0.49500000000000005" >b</text>
<text x="1616.7" y="557.6" font-size="19.98" fill="#e5e5e5" textLength="12.1" lengthAdjust="spacingAndGlyphs" stroke="#e5e5e5" stroke-width="0.49500000000000005" >…</text>
<text x="1637.2" y="537.6" font-size="24.84" fill="#e6e6e6" textLength="40.1" lengthAdjust="spacingAndGlyphs" stroke="#e6e6e6" stroke-width="0.55" >com</text>
<text x="1677.8" y="537.6" font-size="24.84" fill="#e6e6e6" textLength="15.1" lengthAdjust="spacingAndGlyphs" stroke="#e6e6e6" stroke-width="0.55" >…</text>
<text x="1645.8" y="557.6" font-size="19.98" fill="#e5e5e5" textLength="25.6" lengthAdjust="spacingAndGlyphs" stroke="#e5e5e5" stroke-width="0.49500000000000005" >Thr</text>
<text x="1671.8" y="557.6" font-size="19.98" fill="#e5e5e5" textLength="12.1" lengthAdjust="spacingAndGlyphs" stroke="#e5e5e5" stroke-width="0.49500000000000005" >…</text>
<text x="1713.6" y="537.6" font-size="24.84" fill="#e6e6e6" textLength="10.6" lengthAdjust="spacingAndGlyphs" stroke="#e6e6e6" stroke-width="0.55" >c</text>
<text x="1724.7" y="537.6" font-size="24.84" fill="#e6e6e6" textLength="15.1" lengthAdjust="spacingAndGlyphs" stroke="#e6e6e6" stroke-width="0.55" >…</text>
<text x="1715.0" y="557.6" font-size="19.98" fill="#e5e5e5" textLength="10.4" lengthAdjust="spacingAndGlyphs" stroke="#e5e5e5" stroke-width="0.49500000000000005" >T</text>
<text x="1725.8" y="557.6" font-size="19.98" fill="#e5e5e5" textLength="12.1" lengthAdjust="spacingAndGlyphs" stroke="#e5e5e5" stroke-width="0.49500000000000005" >…</text>
<rect x="1755.0" y="516.0" width="40.0" height="48.0" fill="#c1c1c1" />
<rect x="1755.0" y="516.0" width="40.0" height="48" fill="url(#hatch)"/>
<text x="1763.0" y="537.6" font-size="24.84" fill="#e6e6e6" textLength="10.6" lengthAdjust="spacingAndGlyphs" stroke="#e6e6e6" stroke-width="0.55" >s</text>
<text x="1774.1" y="537.6" font-size="24.84" fill="#e6e6e6" textLength="15.1" lengthAdjust="spacingAndGlyphs" stroke="#e6e6e6" stroke-width="0.55" >…</text>
<text x="1764.8" y="557.6" font-size="19.98" fill="#e5e5e5" textLength="9.5" lengthAdjust="spacingAndGlyphs" stroke="#e5e5e5" stroke-width="0.49500000000000005" >a</text>
<text x="1774.7" y="557.6" font-size="19.98" fill="#e5e5e5" textLength="12.1" lengthAdjust="spacingAndGlyphs" stroke="#e5e5e5" stroke-width="0.49500000000000005" >…</text>
<rect x="1856.6" y="516.0" width="9.4" height="48.0" fill="#c1c1c1" />
<rect x="1869.6" y="516.0" width="4.4" height="48.0" fill="#c1c1c1" />
<rect x="1885.5" y="516.0" width="7.5" height="48.0" fill="#c1c1c1" />
<rect x="1908.5" y="516.0" width="4.1" height="48.0" fill="#c1c1c1" />
<rect x="1926.0" y="516.0" width="82.0" height="48.0" fill="#c1c1c1" />
<rect x="1926.0" y="516.0" width="82.0" height="48" fill="url(#hatch)"/>
<text x="1940.0" y="537.6" font-size="24.84" fill="#e6e6e6" textLength="76.6" lengthAdjust="spacingAndGlyphs" stroke="#e6e6e6" stroke-width="0.55" >kworker</text>
<text x="2017.0" y="537.6" font-size="24.84" fill="#e6e6e6" textLength="15.1" lengthAdjust="spacingAndGlyphs" stroke="#e6e6e6" stroke-width="0.55" >…</text>
<text x="1948.0" y="557.6" font-size="19.98" fill="#e5e5e5" textLength="65.2" lengthAdjust="spacingAndGlyphs" stroke="#e5e5e5" stroke-width="0.49500000000000005" >kworker</text>
<text x="2013.6" y="557.6" font-size="19.98" fill="#e5e5e5" textLength="12.1" lengthAdjust="spacingAndGlyphs" stroke="#e5e5e5" stroke-width="0.49500000000000005" >…</text>
<rect x="496.0" y="576.0" width="773.0" height="48.0" fill="#c1c1c1" />
<rect x="496.0" y="576.0" width="159.6" height="48.0" fill="#c1c1c1" />
<rect x="496.0" y="576.0" width="159.6" height="48" fill="url(#hatch)"/>
<rect x="654.8" y="576.0" width="1.6" height="48.0" fill="#a6a6a6" />
<rect x="662.2" y="576.0" width="1.6" height="48.0" fill="#a6a6a6" />
<rect x="667.9" y="576.0" width="1.6" height="48.0" fill="#a6a6a6" />
<rect x="683.2" y="576.0" width="1.6" height="48.0" fill="#a6a6a6" />
<rect x="704.8" y="576.0" width="1.6" height="48.0" fill="#a6a6a6" />
<rect x="735.2" y="576.0" width="1.6" height="48.0" fill="#a6a6a6" />
<rect x="873.7" y="576.0" width="1.6" height="48.0" fill="#a6a6a6" />
<rect x="1248.2" y="576.0" width="1.6" height="48.0" fill="#a6a6a6" />
<text x="511.8" y="597.6" font-size="24.84" fill="#e6e6e6" textLength="115.7" lengthAdjust="spacingAndGlyphs" stroke="#e6e6e6" stroke-width="0.55" >kworker/u18</text>
<text x="628.0" y="597.6" font-size="24.84" fill="#e6e6e6" textLength="15.1" lengthAdjust="spacingAndGlyphs" stroke="#e6e6e6" stroke-width="0.55" >…</text>
<text x="524.5" y="617.6" font-size="19.98" fill="#e5e5e5" textLength="93.0" lengthAdjust="spacingAndGlyphs" stroke="#e5e5e5" stroke-width="0.49500000000000005" >kworker/u18</text>
<text x="617.9" y="617.6" font-size="19.98" fill="#e5e5e5" textLength="12.1" lengthAdjust="spacingAndGlyphs" stroke="#e5e5e5" stroke-width="0.49500000000000005" >…</text>
<text x="720.6" y="597.6" font-size="24.84" fill="#e6e6e6" textLength="10.6" lengthAdjust="spacingAndGlyphs" text-anchor="middle" stroke="#e6e6e6" stroke-width="0.55" >s</text>
<text x="720.6" y="617.6" font-size="19.98" fill="#e5e5e5" textLength="8.5" lengthAdjust="spacingAndGlyphs" text-anchor="middle" stroke="#e5e5e5" stroke-width="0.49500000000000005" >s</text>
<text x="747.5" y="597.6" font-size="24.84" fill="#e6e6e6" textLength="101.5" lengthAdjust="spacingAndGlyphs" stroke="#e6e6e6" stroke-width="0.55" >system<tspan dy="-2.98">_</tspan><tspan dy="2.98">se</tspan></text>
<text x="849.5" y="597.6" font-size="24.84" fill="#e6e6e6" textLength="15.1" lengthAdjust="spacingAndGlyphs" stroke="#e6e6e6" stroke-width="0.55" >…</text>
<text x="764.0" y="617.6" font-size="19.98" fill="#e5e5e5" textLength="71.2" lengthAdjust="spacingAndGlyphs" stroke="#e5e5e5" stroke-width="0.49500000000000005" >binder:20</text>
<text x="835.6" y="617.6" font-size="19.98" fill="#e5e5e5" textLength="12.1" lengthAdjust="spacingAndGlyphs" stroke="#e5e5e5" stroke-width="0.49500000000000005" >…</text>
<text x="898.0" y="597.6" font-size="24.84" fill="#e6e6e6" textLength="313.6" lengthAdjust="spacingAndGlyphs" stroke="#e6e6e6" stroke-width="0.55" >com.android.providers.media.mo</text>
<text x="1212.0" y="597.6" font-size="24.84" fill="#e6e6e6" textLength="15.1" lengthAdjust="spacingAndGlyphs" stroke="#e6e6e6" stroke-width="0.55" >…</text>
<text x="996.4" y="617.6" font-size="19.98" fill="#e5e5e5" textLength="131.3" lengthAdjust="spacingAndGlyphs" stroke="#e5e5e5" stroke-width="0.49500000000000005" >Thread-24 [8151]</text>
<rect x="1277.0" y="576.0" width="17.0" height="48.0" fill="#c1c1c1" />
<rect x="1351.5" y="576.0" width="7.5" height="48.0" fill="#c1c1c1" />
<rect x="1375.0" y="576.0" width="347.0" height="48.0" fill="#c1c1c1" />
<rect x="1375.0" y="576.0" width="56.0" height="48.0" fill="#c1c1c1" />
<rect x="1375.0" y="576.0" width="56.0" height="48" fill="url(#hatch)"/>
<rect x="1631.6" y="576.0" width="43.4" height="48.0" fill="#c1c1c1" />
<rect x="1631.6" y="576.0" width="43.4" height="48" fill="url(#hatch)"/>
<rect x="1430.2" y="576.0" width="1.6" height="48.0" fill="#a6a6a6" />
<rect x="1626.8" y="576.0" width="1.6" height="48.0" fill="#a6a6a6" />
<rect x="1630.8" y="576.0" width="1.6" height="48.0" fill="#a6a6a6" />
<rect x="1674.2" y="576.0" width="1.6" height="48.0" fill="#a6a6a6" />
<rect x="1697.2" y="576.0" width="1.6" height="48.0" fill="#a6a6a6" />
<rect x="1703.2" y="576.0" width="1.6" height="48.0" fill="#a6a6a6" />
<rect x="1715.2" y="576.0" width="1.6" height="48.0" fill="#a6a6a6" />
<text x="1383.0" y="597.6" font-size="24.84" fill="#e6e6e6" textLength="26.0" lengthAdjust="spacingAndGlyphs" stroke="#e6e6e6" stroke-width="0.55" >kw</text>
<text x="1409.4" y="597.6" font-size="24.84" fill="#e6e6e6" textLength="15.1" lengthAdjust="spacingAndGlyphs" stroke="#e6e6e6" stroke-width="0.55" >…</text>
<text x="1386.9" y="617.6" font-size="19.98" fill="#e5e5e5" textLength="20.9" lengthAdjust="spacingAndGlyphs" stroke="#e5e5e5" stroke-width="0.49500000000000005" >kw</text>
<text x="1408.1" y="617.6" font-size="19.98" fill="#e5e5e5" textLength="12.1" lengthAdjust="spacingAndGlyphs" stroke="#e5e5e5" stroke-width="0.49500000000000005" >…</text>
<text x="1452.0" y="597.6" font-size="24.84" fill="#e6e6e6" textLength="141.2" lengthAdjust="spacingAndGlyphs" stroke="#e6e6e6" stroke-width="0.55" >system<tspan dy="-2.98">_</tspan><tspan dy="2.98">server </tspan></text>
<text x="1593.6" y="597.6" font-size="24.84" fill="#e6e6e6" textLength="15.1" lengthAdjust="spacingAndGlyphs" stroke="#e6e6e6" stroke-width="0.55" >…</text>
<text x="1462.0" y="617.6" font-size="19.98" fill="#e5e5e5" textLength="123.2" lengthAdjust="spacingAndGlyphs" stroke="#e5e5e5" stroke-width="0.49500000000000005" >binder:2006<tspan dy="-2.40">_</tspan><tspan dy="2.40">1C</tspan></text>
<text x="1585.6" y="617.6" font-size="19.98" fill="#e5e5e5" textLength="12.1" lengthAdjust="spacingAndGlyphs" stroke="#e5e5e5" stroke-width="0.49500000000000005" >…</text>
<text x="1641.0" y="597.6" font-size="24.84" fill="#e6e6e6" textLength="10.6" lengthAdjust="spacingAndGlyphs" stroke="#e6e6e6" stroke-width="0.55" >k</text>
<text x="1652.1" y="597.6" font-size="24.84" fill="#e6e6e6" textLength="15.1" lengthAdjust="spacingAndGlyphs" stroke="#e6e6e6" stroke-width="0.55" >…</text>
<text x="1643.3" y="617.6" font-size="19.98" fill="#e5e5e5" textLength="8.5" lengthAdjust="spacingAndGlyphs" stroke="#e5e5e5" stroke-width="0.49500000000000005" >k</text>
<text x="1652.3" y="617.6" font-size="19.98" fill="#e5e5e5" textLength="12.1" lengthAdjust="spacingAndGlyphs" stroke="#e5e5e5" stroke-width="0.49500000000000005" >…</text>
<text x="1686.6" y="597.6" font-size="24.84" fill="#e6e6e6" textLength="10.6" lengthAdjust="spacingAndGlyphs" text-anchor="middle" stroke="#e6e6e6" stroke-width="0.55" >s</text>
<text x="1686.6" y="617.6" font-size="19.98" fill="#e5e5e5" textLength="11.4" lengthAdjust="spacingAndGlyphs" text-anchor="middle" stroke="#e5e5e5" stroke-width="0.49500000000000005" >P</text>
<rect x="1747.0" y="576.0" width="261.0" height="48.0" fill="#c1c1c1" />
<rect x="1760.8" y="576.0" width="1.6" height="48.0" fill="#a6a6a6" />
<rect x="1872.2" y="576.0" width="1.6" height="48.0" fill="#a6a6a6" />
<rect x="1985.8" y="576.0" width="1.6" height="48.0" fill="#a6a6a6" />
<rect x="1998.8" y="576.0" width="1.6" height="48.0" fill="#a6a6a6" />
<text x="1769.6" y="597.6" font-size="24.84" fill="#e6e6e6" textLength="81.5" lengthAdjust="spacingAndGlyphs" stroke="#e6e6e6" stroke-width="0.55" >com.and</text>
<text x="1851.5" y="597.6" font-size="24.84" fill="#e6e6e6" textLength="15.1" lengthAdjust="spacingAndGlyphs" stroke="#e6e6e6" stroke-width="0.55" >…</text>
<text x="1781.7" y="617.6" font-size="19.98" fill="#e5e5e5" textLength="59.8" lengthAdjust="spacingAndGlyphs" stroke="#e5e5e5" stroke-width="0.49500000000000005" >Thread-</text>
<text x="1841.9" y="617.6" font-size="19.98" fill="#e5e5e5" textLength="12.1" lengthAdjust="spacingAndGlyphs" stroke="#e5e5e5" stroke-width="0.49500000000000005" >…</text>
<text x="1885.1" y="597.6" font-size="24.84" fill="#e6e6e6" textLength="74.3" lengthAdjust="spacingAndGlyphs" stroke="#e6e6e6" stroke-width="0.55" >kworker</text>
<text x="1959.9" y="597.6" font-size="24.84" fill="#e6e6e6" textLength="15.1" lengthAdjust="spacingAndGlyphs" stroke="#e6e6e6" stroke-width="0.55" >…</text>
<text x="1893.7" y="617.6" font-size="19.98" fill="#e5e5e5" textLength="59.8" lengthAdjust="spacingAndGlyphs" stroke="#e5e5e5" stroke-width="0.49500000000000005" >kworker</text>
<text x="1953.9" y="617.6" font-size="19.98" fill="#e5e5e5" textLength="12.1" lengthAdjust="spacingAndGlyphs" stroke="#e5e5e5" stroke-width="0.49500000000000005" >…</text>
</g>
<rect x="688.2" y="217.0" width="1.6" height="408.0" fill="rgba(0,0,0,0.07)" />
<rect x="1156.2" y="217.0" width="1.6" height="408.0" fill="rgba(0,0,0,0.07)" />
<rect x="1626.2" y="217.0" width="1.6" height="408.0" fill="rgba(0,0,0,0.07)" />
<rect x="0.0" y="178.4" width="2008.0" height="1.6" fill="#e9e9e9" />
<rect x="0.0" y="180.0" width="2008.0" height="36.6" fill="#262f3c" />
<polyline points="6.1,202.8 12,196.7 17.9,202.8" fill="none" stroke="#f1f3f4" stroke-width="2.5"/>
<text x="26.8" y="207.4" font-size="26.91" fill="#f4f5f6" textLength="171.0" lengthAdjust="spacingAndGlyphs" stroke="#f4f5f6" stroke-width="0.15" >CPU Scheduling</text>
<rect x="0.0" y="625.0" width="2008.0" height="2.0" fill="#c8c8c8" />
<rect x="0.0" y="627.0" width="2008.0" height="58.0" fill="#edeff0" />
<rect x="0" y="677" width="2008" height="8" fill="url(#shC)"/>
<rect x="0.0" y="683.5" width="2008.0" height="2.5" fill="#c6c8c8" />
<path d="M59.5,686 V638 Q59.5,632.5 65,632.5 H281 Q286.5,632.5 286.5,638 V686 Z" fill="#ffffff" stroke="#dcdcdc" stroke-width="1.4"/>
<rect x="60.2" y="683.0" width="225.6" height="4.0" fill="#ffffff" />
<text x="79.0" y="668.6" font-size="26.91" fill="#2e2e2e" textLength="187.8" lengthAdjust="spacingAndGlyphs" stroke="#2e2e2e" stroke-width="0.5" >Current Selection</text>
<circle cx="23.9" cy="648.2" r="2.7" fill="#333"/>
<circle cx="23.9" cy="656.1" r="2.7" fill="#333"/>
<circle cx="23.9" cy="664.1" r="2.7" fill="#333"/>
<rect x="2003.5" y="650.4" width="5.0" height="4.0" fill="#222" />
<text x="13.0" y="734.5" font-size="36.85" fill="#2e2e2e" textLength="231.3" lengthAdjust="spacingAndGlyphs" stroke="#2e2e2e" stroke-width="0.8" >CPU Sched Slice</text>
<text x="257.7" y="734.4" font-size="26.91" fill="#2e2e2e" textLength="361.5" lengthAdjust="spacingAndGlyphs" stroke="#2e2e2e" stroke-width="0.35" >com.oplus.pantanal.ums [12075]</text>
<rect x="0.0" y="753.8" width="2008.0" height="2.0" fill="#c9c9c9" />
<rect x="13.5" y="773" width="1023" height="640.5" rx="3" ry="3" fill="#fff" stroke="#dddddd" stroke-width="1.6"/>
<rect x="13.5" y="835.8" width="1023.0" height="1.6" fill="#dddddd" />
<text x="26.7" y="815.5" font-size="31.57" fill="#2e2e2e" textLength="85.7" lengthAdjust="spacingAndGlyphs" stroke="#2e2e2e" stroke-width="0.4" >Details</text>
<rect x="1055" y="773" width="990" height="396.5" rx="3" ry="3" fill="#fff" stroke="#dddddd" stroke-width="1.6"/>
<rect x="1055.0" y="835.8" width="960.0" height="1.6" fill="#dddddd" />
<text x="1068.6" y="815.4" font-size="31.57" fill="#2e2e2e" textLength="243.7" lengthAdjust="spacingAndGlyphs" stroke="#2e2e2e" stroke-width="0.4" >Scheduling Latency</text>
<text x="58.4" y="875.5" font-size="26.91" fill="#2e2e2e" textLength="88.4" lengthAdjust="spacingAndGlyphs" stroke="#2e2e2e" stroke-width="0.6" >Process</text>
<text x="250.3" y="875.5" font-size="26.91" fill="#2e2e2e" textLength="363.0" lengthAdjust="spacingAndGlyphs" stroke="#2e2e2e" stroke-width="0.35" >com.oplus.pantanal.ums [12075]</text>
<text x="58.4" y="918.7" font-size="26.91" fill="#2e2e2e" textLength="75.6" lengthAdjust="spacingAndGlyphs" stroke="#2e2e2e" stroke-width="0.6" >Thread</text>
<text x="250.3" y="918.7" font-size="26.91" fill="#3d5688" textLength="269.6" lengthAdjust="spacingAndGlyphs" stroke="#3d5688" stroke-width="0.35" >UMSDecisionSing [6714]</text>
<rect x="250.3" y="920.7" width="269.6" height="1.9" fill="#3d5688" />
<text x="58.4" y="961.9" font-size="26.91" fill="#2e2e2e" textLength="89.4" lengthAdjust="spacingAndGlyphs" stroke="#2e2e2e" stroke-width="0.6" >Cmdline</text>
<text x="250.3" y="961.9" font-size="26.91" fill="#2e2e2e" textLength="272.9" lengthAdjust="spacingAndGlyphs" stroke="#2e2e2e" stroke-width="0.35" >com.oplus.pantanal.ums</text>
<text x="58.4" y="1005.1" font-size="26.91" fill="#2e2e2e" textLength="107.6" lengthAdjust="spacingAndGlyphs" stroke="#2e2e2e" stroke-width="0.6" >Start time</text>
<text x="250.3" y="1005.1" font-size="26.91" fill="#3d5688" textLength="102.7" lengthAdjust="spacingAndGlyphs" stroke="#3d5688" stroke-width="0.35" >00:00:07.</text>
<rect x="250.3" y="1007.1" width="102.7" height="1.9" fill="#3d5688" />
<text x="356.4" y="1005.1" font-size="26.91" fill="#3d5688" textLength="40.0" lengthAdjust="spacingAndGlyphs" stroke="#3d5688" stroke-width="0.35" >591</text>
<rect x="356.4" y="1007.1" width="40.0" height="1.9" fill="#3d5688" />
<text x="401.4" y="1005.1" font-size="26.91" fill="#3d5688" textLength="40.6" lengthAdjust="spacingAndGlyphs" stroke="#3d5688" stroke-width="0.35" >610</text>
<rect x="401.4" y="1007.1" width="40.6" height="1.9" fill="#3d5688" />
<text x="447.0" y="1005.1" font-size="26.91" fill="#3d5688" textLength="40.8" lengthAdjust="spacingAndGlyphs" stroke="#3d5688" stroke-width="0.35" >462</text>
<rect x="447.0" y="1007.1" width="40.8" height="1.9" fill="#3d5688" />
<text x="58.4" y="1048.3" font-size="26.91" fill="#2e2e2e" textLength="92.4" lengthAdjust="spacingAndGlyphs" stroke="#2e2e2e" stroke-width="0.6" >Duration</text>
<text x="250.3" y="1048.3" font-size="26.91" fill="#3d5688" textLength="141.7" lengthAdjust="spacingAndGlyphs" stroke="#3d5688" stroke-width="0.35" >371µs 692ns</text>
<rect x="250.3" y="1050.3" width="141.7" height="1.9" fill="#3d5688" />
<text x="58.4" y="1091.5" font-size="26.91" fill="#2e2e2e" textLength="78.4" lengthAdjust="spacingAndGlyphs" stroke="#2e2e2e" stroke-width="0.6" >Priority</text>
<text x="250.3" y="1091.5" font-size="26.91" fill="#2e2e2e" textLength="40.7" lengthAdjust="spacingAndGlyphs" stroke="#2e2e2e" stroke-width="0.35" >120</text>
<text x="58.4" y="1134.7" font-size="26.91" fill="#2e2e2e" textLength="104.4" lengthAdjust="spacingAndGlyphs" stroke="#2e2e2e" stroke-width="0.6" >End State</text>
<text x="250.3" y="1134.7" font-size="26.91" fill="#2e2e2e" textLength="229.5" lengthAdjust="spacingAndGlyphs" stroke="#2e2e2e" stroke-width="0.35" >Uninterruptible Sleep</text>
<text x="58.4" y="1177.9" font-size="26.91" fill="#2e2e2e" textLength="72.4" lengthAdjust="spacingAndGlyphs" stroke="#2e2e2e" stroke-width="0.6" >SQL ID</text>
<text x="250.3" y="1177.9" font-size="26.91" fill="#3d5688" textLength="162.4" lengthAdjust="spacingAndGlyphs" stroke="#3d5688" stroke-width="0.35" >sched[108065]</text>
<rect x="250.3" y="1179.9" width="162.4" height="1.9" fill="#3d5688" />
<text x="58.4" y="1221.1" font-size="26.91" fill="#2e2e2e" textLength="75.6" lengthAdjust="spacingAndGlyphs" stroke="#2e2e2e" stroke-width="0.6" >Thread</text>
<text x="250.3" y="1221.1" font-size="26.91" fill="#2e2e2e" textLength="255.9" lengthAdjust="spacingAndGlyphs" stroke="#2e2e2e" stroke-width="0.35" >UMSDecisionSing 6714</text>
<text x="58.4" y="1264.3" font-size="26.91" fill="#2e2e2e" textLength="88.4" lengthAdjust="spacingAndGlyphs" stroke="#2e2e2e" stroke-width="0.6" >Process</text>
<text x="250.3" y="1264.3" font-size="26.91" fill="#2e2e2e" textLength="349.0" lengthAdjust="spacingAndGlyphs" stroke="#2e2e2e" stroke-width="0.35" >com.oplus.pantanal.ums 12075</text>
<text x="58.4" y="1307.5" font-size="26.91" fill="#2e2e2e" textLength="78.4" lengthAdjust="spacingAndGlyphs" stroke="#2e2e2e" stroke-width="0.6" >User ID</text>
<text x="250.3" y="1307.5" font-size="26.91" fill="#2e2e2e" textLength="68.4" lengthAdjust="spacingAndGlyphs" stroke="#2e2e2e" stroke-width="0.35" >10130</text>
<text x="58.4" y="1350.7" font-size="26.91" fill="#2e2e2e" textLength="161.2" lengthAdjust="spacingAndGlyphs" stroke="#2e2e2e" stroke-width="0.6" >Package name</text>
<text x="250.3" y="1350.7" font-size="26.91" fill="#2e2e2e" textLength="272.9" lengthAdjust="spacingAndGlyphs" stroke="#2e2e2e" stroke-width="0.35" >com.oplus.pantanal.ums</text>
<text x="58.4" y="1393.9" font-size="26.91" fill="#2e2e2e" textLength="142.8" lengthAdjust="spacingAndGlyphs" stroke="#2e2e2e" stroke-width="0.6" >Version code</text>
<text x="250.3" y="1393.9" font-size="26.91" fill="#2e2e2e" textLength="110.1" lengthAdjust="spacingAndGlyphs" stroke="#2e2e2e" stroke-width="0.35" >15000105</text>
<g fill="none" stroke="#3d5688" stroke-width="2.2"><line x1="529" y1="917.7" x2="544.5" y2="902.2"/><polyline points="533,901.7 545,901.7 545,913.7"/></g>
<polygon points="423.8,1166.7 434.8,1166.7 429.3,1172.3" fill="#3d5688"/>
<rect x="1106.0" y="890.0" width="4.0" height="199.6" fill="#000" />
<polygon points="1108,916.3 1120,930 1108,943.7 1096,930" fill="#000"/>
<g fill="none" stroke="#000" stroke-width="4" stroke-linecap="round" stroke-linejoin="miter">
<line x1="1109.5" y1="1050.3" x2="1226" y2="1050.3" stroke-linecap="butt"/>
<polyline points="1124,1043.2 1109.5,1050.3 1124,1057.4"/>
<polyline points="1212,1043.2 1226,1050.3 1212,1057.4"/>
</g>
<text x="1149.0" y="915.0" font-size="26.91" fill="#2e2e2e" textLength="113.0" lengthAdjust="spacingAndGlyphs" stroke="#2e2e2e" stroke-width="0.35" >Wakeup @</text>
<text x="1269.6" y="915.0" font-size="26.91" fill="#3d5688" textLength="102.4" lengthAdjust="spacingAndGlyphs" stroke="#3d5688" stroke-width="0.35" >00:00:07.</text>
<rect x="1269.6" y="917.0" width="102.4" height="1.9" fill="#3d5688" />
<text x="1376.0" y="915.0" font-size="26.91" fill="#3d5688" textLength="39.4" lengthAdjust="spacingAndGlyphs" stroke="#3d5688" stroke-width="0.35" >590</text>
<rect x="1376.0" y="917.0" width="39.4" height="1.9" fill="#3d5688" />
<text x="1421.4" y="915.0" font-size="26.91" fill="#3d5688" textLength="39.6" lengthAdjust="spacingAndGlyphs" stroke="#3d5688" stroke-width="0.35" >147</text>
<rect x="1421.4" y="917.0" width="39.6" height="1.9" fill="#3d5688" />
<text x="1466.4" y="915.0" font-size="26.91" fill="#3d5688" textLength="40.1" lengthAdjust="spacingAndGlyphs" stroke="#3d5688" stroke-width="0.35" >001</text>
<rect x="1466.4" y="917.0" width="40.1" height="1.9" fill="#3d5688" />
<text x="1514.5" y="915.0" font-size="26.91" fill="#2e2e2e" textLength="131.1" lengthAdjust="spacingAndGlyphs" stroke="#2e2e2e" stroke-width="0.35" >on CPU 6 by</text>
<text x="1149.0" y="948.4" font-size="26.91" fill="#2e2e2e" textLength="275.4" lengthAdjust="spacingAndGlyphs" stroke="#2e2e2e" stroke-width="0.35" >P: kworker/u18:13 [6105]</text>
<text x="1149.0" y="981.8" font-size="26.91" fill="#2e2e2e" textLength="274.0" lengthAdjust="spacingAndGlyphs" stroke="#2e2e2e" stroke-width="0.35" >T: kworker/u18:13 [6105]</text>
<text x="1280.2" y="1055.2" font-size="26.91" fill="#2e2e2e" textLength="213.6" lengthAdjust="spacingAndGlyphs" stroke="#2e2e2e" stroke-width="0.35" >Scheduling latency:</text>
<text x="1500.8" y="1055.2" font-size="26.91" fill="#3d5688" textLength="195.5" lengthAdjust="spacingAndGlyphs" stroke="#3d5688" stroke-width="0.35" >1ms 463µs 461ns</text>
<rect x="1500.8" y="1057.2" width="195.5" height="1.9" fill="#3d5688" />
<text x="1280.8" y="1085.0" font-size="23.08" fill="#2e2e2e" textLength="712.2" lengthAdjust="spacingAndGlyphs" stroke="#2e2e2e" stroke-width="0.35" >This is the interval from when the task became eligible to run (e.g. because of</text>
<text x="1280.8" y="1112.6" font-size="23.08" fill="#2e2e2e" textLength="648.2" lengthAdjust="spacingAndGlyphs" stroke="#2e2e2e" stroke-width="0.35" >notifying a wait queue it was suspended on) to when it started running.</text>
<rect x="749" y="335" width="698.3" height="108" fill="none" stroke="#f5001d" stroke-width="5.9"/>
<text x="803.7" y="432.6" font-size="30.3" fill="#f5001d" textLength="424.5" lengthAdjust="spacingAndGlyphs" class="cjk">这里的 1.463ms 就是调度延迟</text>
<g fill="none" stroke="#000" stroke-width="4.3" stroke-linecap="round" stroke-linejoin="miter">
<line x1="759" y1="384.1" x2="1440" y2="384.1" stroke-linecap="butt"/>
<polyline points="772.3,377.9 759,384.1 772.3,390.3"/>
<polyline points="1428.7,377.9 1440,384.1 1428.7,390.3"/>
</g>
<rect x="756.0" y="60.0" width="4.1" height="120.0" fill="#000" />
<rect x="756.0" y="216.6" width="4.1" height="408.4" fill="#000" />
<polygon points="758,526.5 769.6,540 758,553.5 746.4,540" fill="#000"/>
<rect x="1058.0" y="360.2" width="86.0" height="22.0" fill="rgba(255,255,255,0.7)" />
<text x="1062.5" y="380.0" font-size="19.66" fill="#000" textLength="78.0" lengthAdjust="spacingAndGlyphs" >1.463ms</text>
<line x1="1344" y1="411.5" x2="1344" y2="1016" stroke="#f5001d" stroke-width="6.3" stroke-linecap="round"/>
<path d="M1331.5,1013 Q1344,1017 1356.5,1013 L1344,1039 Z" fill="#f5001d"/>
<path d="M1978,696 L2005,708 L1978,720 L1980.8,708 Z" fill="#f5001d"/>
<rect x="1523.5" y="337.5" width="363" height="59.7" rx="3" ry="3" fill="rgba(255,255,255,0.93)" filter="url(#tsh)"/>
<text x="1536.5" y="362.2" font-size="20.5" fill="#444444" textLength="337" lengthAdjust="spacingAndGlyphs">P: com.oplus.pantanal.ums [12075]</text>
<text x="1536.5" y="387.6" font-size="20.5" fill="#444444" textLength="257.5" lengthAdjust="spacingAndGlyphs">T: UMSDecisionSing [6714]</text>
</svg>
</body>
</html>
